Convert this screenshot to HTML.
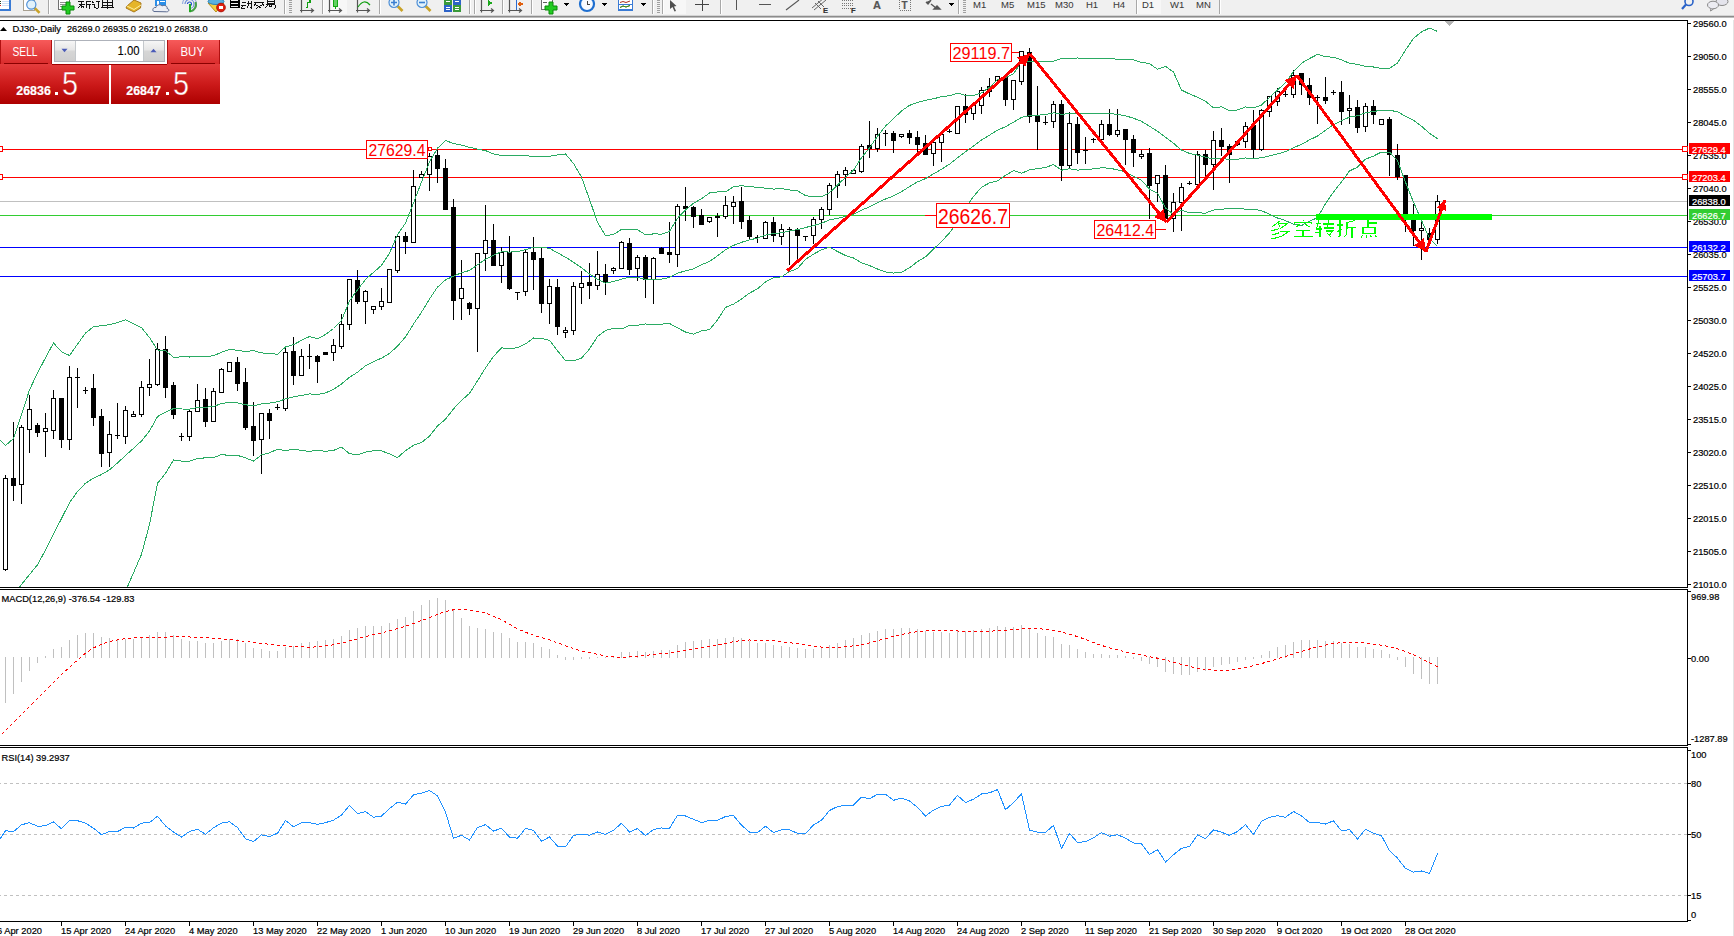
<!DOCTYPE html>
<html><head><meta charset="utf-8"><style>
html,body{margin:0;padding:0;width:1734px;height:936px;overflow:hidden;background:#fff;}
</style></head><body>
<svg width="1734" height="936" viewBox="0 0 1734 936" style="position:absolute;left:0;top:0" font-family='"Liberation Sans", sans-serif' shape-rendering="crispEdges"><rect x="0" y="20" width="1734" height="916" fill="#ffffff" /><rect x="1733" y="18" width="1" height="918" fill="#e4e4e4" /><rect x="0" y="20" width="1688" height="1" fill="#000" /><rect x="1687" y="20" width="1" height="568" fill="#000" /><rect x="0" y="587" width="1688" height="1" fill="#000" /><rect x="0" y="589" width="1688" height="1" fill="#000" /><rect x="1687" y="589" width="1" height="157" fill="#000" /><rect x="0" y="745" width="1688" height="1" fill="#000" /><rect x="0" y="747" width="1688" height="1" fill="#000" /><rect x="1687" y="747" width="1" height="175" fill="#000" /><rect x="0" y="921" width="1688" height="1" fill="#000" /><rect x="0" y="0" width="1734" height="15" fill="#f0f0f0" /><rect x="0" y="15" width="1734" height="1" fill="#d4d4d4" /><rect x="0" y="16" width="1734" height="1" fill="#8c8c8c" /><rect x="0" y="17" width="1734" height="1" fill="#bdbdbd" /><rect x="0" y="18" width="1734" height="2" fill="#ffffff" /><rect x="323" y="0" width="24" height="14" fill="#f7f7f7" /><rect x="664" y="0" width="22" height="14" fill="#f7f7f7" /><rect x="1137" y="0" width="24" height="14" fill="#f7f7f7" /><rect x="48" y="0" width="1" height="14" fill="#a8a8a8" /><rect x="49" y="0" width="1" height="14" fill="#ffffff" /><rect x="284" y="0" width="1" height="14" fill="#a8a8a8" /><rect x="285" y="0" width="1" height="14" fill="#ffffff" /><rect x="322" y="0" width="1" height="14" fill="#a8a8a8" /><rect x="323" y="0" width="1" height="14" fill="#ffffff" /><rect x="379" y="0" width="1" height="14" fill="#a8a8a8" /><rect x="380" y="0" width="1" height="14" fill="#ffffff" /><rect x="469" y="0" width="1" height="14" fill="#a8a8a8" /><rect x="470" y="0" width="1" height="14" fill="#ffffff" /><rect x="474" y="0" width="1" height="14" fill="#a8a8a8" /><rect x="475" y="0" width="1" height="14" fill="#ffffff" /><rect x="502" y="0" width="1" height="14" fill="#a8a8a8" /><rect x="503" y="0" width="1" height="14" fill="#ffffff" /><rect x="531" y="0" width="1" height="14" fill="#a8a8a8" /><rect x="532" y="0" width="1" height="14" fill="#ffffff" /><rect x="652" y="0" width="1" height="14" fill="#a8a8a8" /><rect x="653" y="0" width="1" height="14" fill="#ffffff" /><rect x="662" y="0" width="1" height="14" fill="#a8a8a8" /><rect x="663" y="0" width="1" height="14" fill="#ffffff" /><rect x="720" y="0" width="1" height="14" fill="#a8a8a8" /><rect x="721" y="0" width="1" height="14" fill="#ffffff" /><rect x="958" y="0" width="1" height="14" fill="#a8a8a8" /><rect x="959" y="0" width="1" height="14" fill="#ffffff" /><rect x="1136" y="0" width="1" height="14" fill="#a8a8a8" /><rect x="1137" y="0" width="1" height="14" fill="#ffffff" /><rect x="1219" y="0" width="1" height="14" fill="#a8a8a8" /><rect x="1220" y="0" width="1" height="14" fill="#ffffff" /><rect x="289" y="0" width="3" height="1" fill="#a0a0a0" /><rect x="289" y="2" width="3" height="1" fill="#a0a0a0" /><rect x="289" y="4" width="3" height="1" fill="#a0a0a0" /><rect x="289" y="6" width="3" height="1" fill="#a0a0a0" /><rect x="289" y="8" width="3" height="1" fill="#a0a0a0" /><rect x="289" y="10" width="3" height="1" fill="#a0a0a0" /><rect x="289" y="12" width="3" height="1" fill="#a0a0a0" /><rect x="657" y="0" width="3" height="1" fill="#a0a0a0" /><rect x="657" y="2" width="3" height="1" fill="#a0a0a0" /><rect x="657" y="4" width="3" height="1" fill="#a0a0a0" /><rect x="657" y="6" width="3" height="1" fill="#a0a0a0" /><rect x="657" y="8" width="3" height="1" fill="#a0a0a0" /><rect x="657" y="10" width="3" height="1" fill="#a0a0a0" /><rect x="657" y="12" width="3" height="1" fill="#a0a0a0" /><rect x="963" y="0" width="3" height="1" fill="#a0a0a0" /><rect x="963" y="2" width="3" height="1" fill="#a0a0a0" /><rect x="963" y="4" width="3" height="1" fill="#a0a0a0" /><rect x="963" y="6" width="3" height="1" fill="#a0a0a0" /><rect x="963" y="8" width="3" height="1" fill="#a0a0a0" /><rect x="963" y="10" width="3" height="1" fill="#a0a0a0" /><rect x="963" y="12" width="3" height="1" fill="#a0a0a0" /><rect x="0" y="0" width="11" height="11" fill="#3a7bd5" /><rect x="0" y="0" width="9" height="9" fill="#ffffff" /><rect x="2" y="1" width="7" height="1" fill="#cfe0f7" /><rect x="2" y="3" width="7" height="1" fill="#cfe0f7" /><rect x="2" y="5" width="7" height="1" fill="#cfe0f7" /><rect x="0" y="1" width="1" height="1" fill="#224422" /><rect x="0" y="3" width="1" height="1" fill="#224422" /><rect x="0" y="5" width="1" height="1" fill="#ee2222" /><rect x="23.5" y="-1" width="11" height="11" fill="#fff" stroke="#a8a090" stroke-width="1"/><line x1="34.52" y1="7.819999999999999" x2="39.52" y2="12.82" stroke="#c9a227" stroke-width="2.6" shape-rendering="auto"/><circle cx="31.3" cy="4.6" r="4.6" fill="#e2f2fb" stroke="#4f8fd6" stroke-width="1.2" shape-rendering="auto"/><rect x="58.5" y="-1" width="11" height="10.5" fill="#fff" stroke="#707070" stroke-width="1"/><rect x="60" y="2" width="6" height="1" fill="#909090" /><rect x="60" y="4" width="6" height="1" fill="#909090" /><rect x="60" y="6" width="4" height="1" fill="#909090" /><path d="M66 2 h4 v4 h4 v4 h-4 v4 h-4 v-4 h-4 v-4 h4 z" fill="#22cc22" stroke="#0a8a0a" stroke-width="1" shape-rendering="auto"/><path d="M78 1.5h6 M78.5 4.5h6 M81.5 1v7 M78 7.5l3-2 M84 7.5l-2.5-2 M85.5 1.5h5 M86 1v7 M86 4.5h4.5 M89 4.5v4" stroke="#111" stroke-width="1" fill="none"/><path d="M92 1.5l1.5 1.5 M92 4.5h2 v3.5 l1.5 -1 M95.5 1.5h4.5 M98 1.5v6.5 l-1.5 0.5" stroke="#111" stroke-width="1" fill="none"/><path d="M102.5 0v6.5 M112 0v6.5 M102.5 2.5h9.5 M102.5 5h9.5 M101 7.5h12.5 M107 0v9" stroke="#111" stroke-width="1" fill="none"/><path d="M127 6 L134 0 L141 3 L140.5 8 L134 12 L126 8 Z" fill="#e5b52a" stroke="#a9781a" stroke-width="1" shape-rendering="auto"/><path d="M127 6 L134 9.5 L141 5" stroke="#fff0a0" stroke-width="1" fill="none" shape-rendering="auto"/><rect x="155" y="0" width="11" height="6" fill="#2a8ee8" /><rect x="157" y="1" width="2" height="4" fill="#ffffff" /><rect x="160" y="1" width="5" height="1" fill="#ffffff" /><path d="M154 11.5 C152 11, 152.5 7, 156 7.5 C156.5 4.5, 160.5 4, 162 6 C164 4.5, 168 6, 167 8.5 C170 9, 169 12, 166.5 11.8 Z" fill="#eceff5" stroke="#5a6a90" stroke-width="1" shape-rendering="auto"/><path d="M187.5 4 A2 2 0 0 1 191.5 4 A2 2 0 0 1 189.5 6" fill="none" stroke="#2255cc" stroke-width="1.2" shape-rendering="auto"/><path d="M185.0 4 A4.5 4.5 0 0 1 194.0 4 A4.5 4.5 0 0 1 189.5 8.5" fill="none" stroke="#6a8ad8" stroke-width="1.2" shape-rendering="auto"/><path d="M182.5 4 A7 7 0 0 1 196.5 4 A7 7 0 0 1 189.5 11" fill="none" stroke="#9ab0e0" stroke-width="1.2" shape-rendering="auto"/><path d="M195.5 2 A7 7 0 0 1 189.5 11.5" fill="none" stroke="#4aa04a" stroke-width="2" shape-rendering="auto"/><rect x="189" y="4" width="2" height="8" fill="#22aa22" /><path d="M208 3 L216 12 L224 3 Z" fill="#f2d040" stroke="#b89020" stroke-width="1" shape-rendering="auto"/><ellipse cx="216" cy="1.5" rx="8" ry="3" fill="#58b0e0" stroke="#2a80b8" stroke-width="1" shape-rendering="auto"/><circle cx="221" cy="7.5" r="4.3" fill="#e02010" stroke="#b01008" stroke-width="1" shape-rendering="auto"/><rect x="219" y="6" width="4" height="3" fill="#ffffff" /><path d="M230.5 0v8 M239 0v8 M230.5 2h8.5 M230.5 5h8.5 M230.5 7.5h8.5" stroke="#000" stroke-width="1.2" fill="none"/><path d="M241.5 2.5h4 M241 5.5h5 M243 5.5l-1.5 2.5h3 M247 3h4 v4.5 l-1 0.5 M248.5 1v4 l-1.5 3 M251.5 1v7.5" stroke="#111" stroke-width="1" fill="none"/><path d="M254 2h10 M256 3.5l-2 2 M262 3.5l2 2 M256.5 5l5 3.5 M261.5 5l-5.5 3.5" stroke="#111" stroke-width="1" fill="none"/><path d="M267 0v3h7v-3 M267 1.5h7 M266 4.5h9 M268 4.5l-2.5 3.5 M270.5 4.5l-2 3 M272 4.5l-1.5 3 M275 4.5v3.5 l-1 0.5" stroke="#111" stroke-width="1" fill="none"/><path d="M301.5 0 V12.5 M300 10.5 H313 M311 8.5 L313.5 10.5 L311 12.5" stroke="#555" stroke-width="1.2" fill="none" shape-rendering="auto"/><path d="M305.5 7.5 h2 v-5 h2.5 v-3" stroke="#12a012" stroke-width="1.3" fill="none"/><path d="M329.5 0 V12.5 M328 10.5 H341 M339 8.5 L341.5 10.5 L339 12.5" stroke="#555" stroke-width="1.2" fill="none" shape-rendering="auto"/><rect x="333" y="0" width="5" height="7" fill="#12a812" /><rect x="334" y="0" width="3" height="6" fill="#60d060" /><rect x="335" y="7" width="1" height="2" fill="#12a812" /><path d="M357.5 0 V12.5 M356 10.5 H369 M367 8.5 L369.5 10.5 L367 12.5" stroke="#555" stroke-width="1.2" fill="none" shape-rendering="auto"/><path d="M358 7 Q364 -2 370 5" stroke="#12a012" stroke-width="1.2" fill="none" shape-rendering="auto"/><line x1="397.5" y1="6.0" x2="402.5" y2="11.0" stroke="#c9a227" stroke-width="2.6" shape-rendering="auto"/><circle cx="394" cy="2.5" r="5" fill="#e2f2fb" stroke="#4f8fd6" stroke-width="1.2" shape-rendering="auto"/><path d="M391 2.5 h6 M394 -0.5 v6" stroke="#3b7fd0" stroke-width="1.6" shape-rendering="auto"/><line x1="425.5" y1="6.0" x2="430.5" y2="11.0" stroke="#c9a227" stroke-width="2.6" shape-rendering="auto"/><circle cx="422" cy="2.5" r="5" fill="#e2f2fb" stroke="#4f8fd6" stroke-width="1.2" shape-rendering="auto"/><path d="M419 2.5 h6" stroke="#3b7fd0" stroke-width="1.6" shape-rendering="auto"/><rect x="444" y="0" width="8" height="5" fill="#3a9a3a" /><rect x="453" y="0" width="8" height="5" fill="#2d63c8" /><rect x="444" y="5" width="8" height="7" fill="#2d63c8" /><rect x="453" y="5" width="8" height="7" fill="#3a9a3a" /><rect x="446" y="7" width="4" height="1" fill="#fff" /><rect x="455" y="7" width="4" height="1" fill="#fff" /><rect x="446" y="9" width="4" height="1" fill="#fff" /><rect x="455" y="9" width="4" height="1" fill="#fff" /><rect x="446" y="1" width="4" height="1" fill="#fff" /><rect x="455" y="1" width="4" height="1" fill="#fff" /><path d="M481.5 0 V12.5 M480 10.5 H493 M491 8.5 L493.5 10.5 L491 12.5" stroke="#555" stroke-width="1.2" fill="none" shape-rendering="auto"/><polygon points="488,0 493,3 488,6" fill="#1aa81a"/><path d="M509.5 0 V12.5 M508 10.5 H521 M519 8.5 L521.5 10.5 L519 12.5" stroke="#555" stroke-width="1.2" fill="none" shape-rendering="auto"/><rect x="516" y="0" width="1" height="10" fill="#2a6ad0" /><polygon points="517,4 521,1.5 521,6.5" fill="#e06010"/><rect x="520" y="3" width="3" height="2" fill="#e06010" /><rect x="541.5" y="-1" width="11" height="10.5" fill="#fff" stroke="#707070" stroke-width="1"/><rect x="543" y="2" width="4" height="1" fill="#606060" /><path d="M549 2 h4 v4 h4 v4 h-4 v4 h-4 v-4 h-4 v-4 h4 z" fill="#22cc22" stroke="#0a8a0a" stroke-width="1" shape-rendering="auto"/><polygon points="563,3 569,3 566,6" fill="#000"/><circle cx="587" cy="4" r="7" fill="#f8fbff" stroke="#1f6fd0" stroke-width="2.2" shape-rendering="auto"/><path d="M587 0.5 v3.5 h2.5" stroke="#444" stroke-width="1" fill="none"/><polygon points="601,3 607,3 604,6" fill="#000"/><rect x="618.5" y="-1" width="14" height="11" fill="#fff" stroke="#3a7bd5" stroke-width="1.2"/><path d="M620 2.5 l3 -1 l3 1 l4 -1.5 M620 7.5 l3 -1.5 l3 1 l4 -1.5" stroke="#b03020" stroke-width="1" fill="none" shape-rendering="auto"/><path d="M620 7.5 l3 -1.5 l3 1 l4 -1.5" stroke="#20a020" stroke-width="1" fill="none" shape-rendering="auto"/><rect x="619" y="4" width="13" height="1" fill="#3a7bd5" /><polygon points="640,3 646,3 643,6" fill="#000"/><path d="M670 0 L676.5 6 L674 6.5 L676 11 L674.5 11.5 L672.5 7 L670 9 Z" fill="#505050" shape-rendering="auto"/><path d="M695 4.5 h14 M702.5 -1 v12" stroke="#444" stroke-width="1" fill="none"/><rect x="736" y="0" width="1" height="10" fill="#555" /><rect x="759" y="4" width="12" height="1" fill="#555" /><line x1="786" y1="10" x2="799" y2="0" stroke="#555" stroke-width="1.1" shape-rendering="auto"/><path d="M812 8 L824 -2 M814 10 L826 0 M815 3 L821 9 M818 1 L824 7" stroke="#666" stroke-width="1" fill="none" shape-rendering="auto"/><text x="823" y="12.5" font-size="7.5" fill="#333" text-anchor="start" font-weight="bold" stroke="#333" stroke-width="0.2" >E</text><line x1="842" y1="0.5" x2="854" y2="0.5" stroke="#777" stroke-width="1" stroke-dasharray="1 1"/><line x1="842" y1="3.0" x2="854" y2="3.0" stroke="#777" stroke-width="1" stroke-dasharray="1 1"/><line x1="842" y1="5.5" x2="854" y2="5.5" stroke="#777" stroke-width="1" stroke-dasharray="1 1"/><line x1="842" y1="8.0" x2="854" y2="8.0" stroke="#777" stroke-width="1" stroke-dasharray="1 1"/><text x="851" y="12.5" font-size="7.5" fill="#333" text-anchor="start" font-weight="bold" stroke="#333" stroke-width="0.2" >F</text><text x="873" y="9" font-size="11" fill="#555" text-anchor="start" font-weight="bold" stroke="#555" stroke-width="0.2" >A</text><rect x="899.5" y="-1" width="11" height="11" fill="none" stroke="#777" stroke-width="1" stroke-dasharray="1 1"/><text x="901.5" y="8.5" font-size="10" fill="#555" text-anchor="start" font-weight="bold" stroke="#555" stroke-width="0.2" >T</text><path d="M926 2 l2 2 l3 -4 M931 4 l5 4 M934 9 l3 -3 l3 3 z" stroke="#555" stroke-width="1.4" fill="#555" shape-rendering="auto"/><polygon points="948,3 954,3 951,6" fill="#000"/><text x="973" y="8" font-size="9.5" fill="#3a3a3a" text-anchor="start" font-weight="normal" stroke="#3a3a3a" stroke-width="0.05" >M1</text><text x="1001" y="8" font-size="9.5" fill="#3a3a3a" text-anchor="start" font-weight="normal" stroke="#3a3a3a" stroke-width="0.05" >M5</text><text x="1027" y="8" font-size="9.5" fill="#3a3a3a" text-anchor="start" font-weight="normal" stroke="#3a3a3a" stroke-width="0.05" >M15</text><text x="1055" y="8" font-size="9.5" fill="#3a3a3a" text-anchor="start" font-weight="normal" stroke="#3a3a3a" stroke-width="0.05" >M30</text><text x="1086" y="8" font-size="9.5" fill="#3a3a3a" text-anchor="start" font-weight="normal" stroke="#3a3a3a" stroke-width="0.05" >H1</text><text x="1113" y="8" font-size="9.5" fill="#3a3a3a" text-anchor="start" font-weight="normal" stroke="#3a3a3a" stroke-width="0.05" >H4</text><text x="1142" y="8" font-size="9.5" fill="#3a3a3a" text-anchor="start" font-weight="normal" stroke="#3a3a3a" stroke-width="0.05" >D1</text><text x="1170" y="8" font-size="9.5" fill="#3a3a3a" text-anchor="start" font-weight="normal" stroke="#3a3a3a" stroke-width="0.05" >W1</text><text x="1196" y="8" font-size="9.5" fill="#3a3a3a" text-anchor="start" font-weight="normal" stroke="#3a3a3a" stroke-width="0.05" >MN</text><circle cx="1689" cy="1.5" r="4" fill="none" stroke="#2a62c8" stroke-width="1.6" shape-rendering="auto"/><line x1="1686" y1="4.5" x2="1682" y2="9" stroke="#2a62c8" stroke-width="2.2" shape-rendering="auto"/><ellipse cx="1722" cy="1.5" rx="6" ry="4" fill="#e4e4ec" stroke="#888" stroke-width="1" shape-rendering="auto"/><ellipse cx="1713" cy="5" rx="5.5" ry="3.8" fill="#ececf2" stroke="#888" stroke-width="1" shape-rendering="auto"/><path d="M1711 8.5 l-0.5 2.5 l3 -2" stroke="#888" fill="#ececf2" stroke-width="1" shape-rendering="auto"/><svg width="1734" height="936" viewBox="0 0 1734 936" style="position:absolute;left:0;top:0" font-family='"Liberation Sans", sans-serif'><rect x="1688" y="23" width="3" height="1" fill="#000" /><text x="1693" y="26.5" font-size="9.3" fill="#000" text-anchor="start" font-weight="normal" stroke="#000" stroke-width="0.2" >29560.0</text><rect x="1688" y="56" width="3" height="1" fill="#000" /><text x="1693" y="59.5" font-size="9.3" fill="#000" text-anchor="start" font-weight="normal" stroke="#000" stroke-width="0.2" >29050.0</text><rect x="1688" y="89" width="3" height="1" fill="#000" /><text x="1693" y="92.5" font-size="9.3" fill="#000" text-anchor="start" font-weight="normal" stroke="#000" stroke-width="0.2" >28555.0</text><rect x="1688" y="122" width="3" height="1" fill="#000" /><text x="1693" y="125.5" font-size="9.3" fill="#000" text-anchor="start" font-weight="normal" stroke="#000" stroke-width="0.2" >28045.0</text><rect x="1688" y="155" width="3" height="1" fill="#000" /><text x="1693" y="158.5" font-size="9.3" fill="#000" text-anchor="start" font-weight="normal" stroke="#000" stroke-width="0.2" >27535.0</text><rect x="1688" y="188" width="3" height="1" fill="#000" /><text x="1693" y="191.5" font-size="9.3" fill="#000" text-anchor="start" font-weight="normal" stroke="#000" stroke-width="0.2" >27040.0</text><rect x="1688" y="221" width="3" height="1" fill="#000" /><text x="1693" y="224.5" font-size="9.3" fill="#000" text-anchor="start" font-weight="normal" stroke="#000" stroke-width="0.2" >26530.0</text><rect x="1688" y="254" width="3" height="1" fill="#000" /><text x="1693" y="257.5" font-size="9.3" fill="#000" text-anchor="start" font-weight="normal" stroke="#000" stroke-width="0.2" >26035.0</text><rect x="1688" y="287" width="3" height="1" fill="#000" /><text x="1693" y="290.5" font-size="9.3" fill="#000" text-anchor="start" font-weight="normal" stroke="#000" stroke-width="0.2" >25525.0</text><rect x="1688" y="320" width="3" height="1" fill="#000" /><text x="1693" y="323.5" font-size="9.3" fill="#000" text-anchor="start" font-weight="normal" stroke="#000" stroke-width="0.2" >25030.0</text><rect x="1688" y="353" width="3" height="1" fill="#000" /><text x="1693" y="356.5" font-size="9.3" fill="#000" text-anchor="start" font-weight="normal" stroke="#000" stroke-width="0.2" >24520.0</text><rect x="1688" y="386" width="3" height="1" fill="#000" /><text x="1693" y="389.5" font-size="9.3" fill="#000" text-anchor="start" font-weight="normal" stroke="#000" stroke-width="0.2" >24025.0</text><rect x="1688" y="419" width="3" height="1" fill="#000" /><text x="1693" y="422.5" font-size="9.3" fill="#000" text-anchor="start" font-weight="normal" stroke="#000" stroke-width="0.2" >23515.0</text><rect x="1688" y="452" width="3" height="1" fill="#000" /><text x="1693" y="455.5" font-size="9.3" fill="#000" text-anchor="start" font-weight="normal" stroke="#000" stroke-width="0.2" >23020.0</text><rect x="1688" y="485" width="3" height="1" fill="#000" /><text x="1693" y="488.5" font-size="9.3" fill="#000" text-anchor="start" font-weight="normal" stroke="#000" stroke-width="0.2" >22510.0</text><rect x="1688" y="518" width="3" height="1" fill="#000" /><text x="1693" y="521.5" font-size="9.3" fill="#000" text-anchor="start" font-weight="normal" stroke="#000" stroke-width="0.2" >22015.0</text><rect x="1688" y="551" width="3" height="1" fill="#000" /><text x="1693" y="554.5" font-size="9.3" fill="#000" text-anchor="start" font-weight="normal" stroke="#000" stroke-width="0.2" >21505.0</text><rect x="1688" y="584" width="3" height="1" fill="#000" /><text x="1693" y="587.5" font-size="9.3" fill="#000" text-anchor="start" font-weight="normal" stroke="#000" stroke-width="0.2" >21010.0</text><rect x="-3" y="922" width="1" height="4" fill="#000" /><text x="-3" y="933.5" font-size="9.3" fill="#000" text-anchor="start" font-weight="normal" stroke="#000" stroke-width="0.2" >6 Apr 2020</text><rect x="61" y="922" width="1" height="4" fill="#000" /><text x="61" y="933.5" font-size="9.3" fill="#000" text-anchor="start" font-weight="normal" stroke="#000" stroke-width="0.2" >15 Apr 2020</text><rect x="125" y="922" width="1" height="4" fill="#000" /><text x="125" y="933.5" font-size="9.3" fill="#000" text-anchor="start" font-weight="normal" stroke="#000" stroke-width="0.2" >24 Apr 2020</text><rect x="189" y="922" width="1" height="4" fill="#000" /><text x="189" y="933.5" font-size="9.3" fill="#000" text-anchor="start" font-weight="normal" stroke="#000" stroke-width="0.2" >4 May 2020</text><rect x="253" y="922" width="1" height="4" fill="#000" /><text x="253" y="933.5" font-size="9.3" fill="#000" text-anchor="start" font-weight="normal" stroke="#000" stroke-width="0.2" >13 May 2020</text><rect x="317" y="922" width="1" height="4" fill="#000" /><text x="317" y="933.5" font-size="9.3" fill="#000" text-anchor="start" font-weight="normal" stroke="#000" stroke-width="0.2" >22 May 2020</text><rect x="381" y="922" width="1" height="4" fill="#000" /><text x="381" y="933.5" font-size="9.3" fill="#000" text-anchor="start" font-weight="normal" stroke="#000" stroke-width="0.2" >1 Jun 2020</text><rect x="445" y="922" width="1" height="4" fill="#000" /><text x="445" y="933.5" font-size="9.3" fill="#000" text-anchor="start" font-weight="normal" stroke="#000" stroke-width="0.2" >10 Jun 2020</text><rect x="509" y="922" width="1" height="4" fill="#000" /><text x="509" y="933.5" font-size="9.3" fill="#000" text-anchor="start" font-weight="normal" stroke="#000" stroke-width="0.2" >19 Jun 2020</text><rect x="573" y="922" width="1" height="4" fill="#000" /><text x="573" y="933.5" font-size="9.3" fill="#000" text-anchor="start" font-weight="normal" stroke="#000" stroke-width="0.2" >29 Jun 2020</text><rect x="637" y="922" width="1" height="4" fill="#000" /><text x="637" y="933.5" font-size="9.3" fill="#000" text-anchor="start" font-weight="normal" stroke="#000" stroke-width="0.2" >8 Jul 2020</text><rect x="701" y="922" width="1" height="4" fill="#000" /><text x="701" y="933.5" font-size="9.3" fill="#000" text-anchor="start" font-weight="normal" stroke="#000" stroke-width="0.2" >17 Jul 2020</text><rect x="765" y="922" width="1" height="4" fill="#000" /><text x="765" y="933.5" font-size="9.3" fill="#000" text-anchor="start" font-weight="normal" stroke="#000" stroke-width="0.2" >27 Jul 2020</text><rect x="829" y="922" width="1" height="4" fill="#000" /><text x="829" y="933.5" font-size="9.3" fill="#000" text-anchor="start" font-weight="normal" stroke="#000" stroke-width="0.2" >5 Aug 2020</text><rect x="893" y="922" width="1" height="4" fill="#000" /><text x="893" y="933.5" font-size="9.3" fill="#000" text-anchor="start" font-weight="normal" stroke="#000" stroke-width="0.2" >14 Aug 2020</text><rect x="957" y="922" width="1" height="4" fill="#000" /><text x="957" y="933.5" font-size="9.3" fill="#000" text-anchor="start" font-weight="normal" stroke="#000" stroke-width="0.2" >24 Aug 2020</text><rect x="1021" y="922" width="1" height="4" fill="#000" /><text x="1021" y="933.5" font-size="9.3" fill="#000" text-anchor="start" font-weight="normal" stroke="#000" stroke-width="0.2" >2 Sep 2020</text><rect x="1085" y="922" width="1" height="4" fill="#000" /><text x="1085" y="933.5" font-size="9.3" fill="#000" text-anchor="start" font-weight="normal" stroke="#000" stroke-width="0.2" >11 Sep 2020</text><rect x="1149" y="922" width="1" height="4" fill="#000" /><text x="1149" y="933.5" font-size="9.3" fill="#000" text-anchor="start" font-weight="normal" stroke="#000" stroke-width="0.2" >21 Sep 2020</text><rect x="1213" y="922" width="1" height="4" fill="#000" /><text x="1213" y="933.5" font-size="9.3" fill="#000" text-anchor="start" font-weight="normal" stroke="#000" stroke-width="0.2" >30 Sep 2020</text><rect x="1277" y="922" width="1" height="4" fill="#000" /><text x="1277" y="933.5" font-size="9.3" fill="#000" text-anchor="start" font-weight="normal" stroke="#000" stroke-width="0.2" >9 Oct 2020</text><rect x="1341" y="922" width="1" height="4" fill="#000" /><text x="1341" y="933.5" font-size="9.3" fill="#000" text-anchor="start" font-weight="normal" stroke="#000" stroke-width="0.2" >19 Oct 2020</text><rect x="1405" y="922" width="1" height="4" fill="#000" /><text x="1405" y="933.5" font-size="9.3" fill="#000" text-anchor="start" font-weight="normal" stroke="#000" stroke-width="0.2" >28 Oct 2020</text><rect x="0" y="149" width="1687" height="1" fill="#ff0000" /><rect x="1689" y="143" width="41" height="11" fill="#ff0000" /><text x="1692" y="152.5" font-size="9.3" fill="#fff" text-anchor="start" font-weight="normal" stroke="#fff" stroke-width="0.2" >27629.4</text><rect x="1682.5" y="146.5" width="5" height="5" fill="#fff" stroke="#ff0000" stroke-width="1"/><rect x="-2.5" y="146.5" width="5" height="5" fill="#fff" stroke="#ff0000" stroke-width="1"/><rect x="0" y="177" width="1687" height="1" fill="#ff0000" /><rect x="1689" y="171" width="41" height="11" fill="#ff0000" /><text x="1692" y="180.5" font-size="9.3" fill="#fff" text-anchor="start" font-weight="normal" stroke="#fff" stroke-width="0.2" >27203.4</text><rect x="1682.5" y="174.5" width="5" height="5" fill="#fff" stroke="#ff0000" stroke-width="1"/><rect x="-2.5" y="174.5" width="5" height="5" fill="#fff" stroke="#ff0000" stroke-width="1"/><rect x="0" y="201" width="1687" height="1" fill="#c0c0c0" /><rect x="1689" y="195" width="41" height="11" fill="#000000" /><text x="1692" y="204.5" font-size="9.3" fill="#fff" text-anchor="start" font-weight="normal" stroke="#fff" stroke-width="0.2" >26838.0</text><rect x="0" y="215" width="1687" height="1" fill="#32cd32" /><rect x="1689" y="209" width="41" height="11" fill="#32cd32" /><text x="1692" y="218.5" font-size="9.3" fill="#fff" text-anchor="start" font-weight="normal" stroke="#fff" stroke-width="0.2" >26626.7</text><rect x="0" y="247" width="1687" height="1" fill="#0000ff" /><rect x="1689" y="241" width="41" height="11" fill="#0000ff" /><text x="1692" y="250.5" font-size="9.3" fill="#fff" text-anchor="start" font-weight="normal" stroke="#fff" stroke-width="0.2" >26132.2</text><rect x="0" y="276" width="1687" height="1" fill="#0000ff" /><rect x="1689" y="270" width="41" height="11" fill="#0000ff" /><text x="1692" y="279.5" font-size="9.3" fill="#fff" text-anchor="start" font-weight="normal" stroke="#fff" stroke-width="0.2" >25703.7</text><rect x="5" y="475" width="1" height="96" fill="#000" /><rect x="3" y="478" width="5" height="92" fill="#000" /><rect x="4" y="479" width="3" height="90" fill="#fff" /><rect x="13" y="422" width="1" height="79" fill="#000" /><rect x="11" y="478" width="5" height="8" fill="#000" /><rect x="21" y="425" width="1" height="79" fill="#000" /><rect x="19" y="427" width="5" height="58" fill="#000" /><rect x="20" y="428" width="3" height="56" fill="#fff" /><rect x="29" y="395" width="1" height="58" fill="#000" /><rect x="27" y="409" width="5" height="21" fill="#000" /><rect x="28" y="410" width="3" height="19" fill="#fff" /><rect x="37" y="423" width="1" height="14" fill="#000" /><rect x="35" y="425" width="5" height="8" fill="#000" /><rect x="45" y="413" width="1" height="44" fill="#000" /><rect x="43" y="428" width="5" height="4" fill="#000" /><rect x="44" y="429" width="3" height="2" fill="#fff" /><rect x="53" y="390" width="1" height="49" fill="#000" /><rect x="51" y="398" width="5" height="33" fill="#000" /><rect x="52" y="399" width="3" height="31" fill="#fff" /><rect x="61" y="398" width="1" height="50" fill="#000" /><rect x="59" y="398" width="5" height="42" fill="#000" /><rect x="69" y="366" width="1" height="84" fill="#000" /><rect x="67" y="377" width="5" height="63" fill="#000" /><rect x="68" y="378" width="3" height="61" fill="#fff" /><rect x="77" y="368" width="1" height="40" fill="#000" /><rect x="75" y="377" width="5" height="1" fill="#000" /><rect x="85" y="387" width="1" height="7" fill="#000" /><rect x="83" y="390" width="5" height="1" fill="#000" /><rect x="93" y="374" width="1" height="52" fill="#000" /><rect x="91" y="388" width="5" height="30" fill="#000" /><rect x="101" y="409" width="1" height="58" fill="#000" /><rect x="99" y="416" width="5" height="38" fill="#000" /><rect x="109" y="421" width="1" height="46" fill="#000" /><rect x="107" y="434" width="5" height="19" fill="#000" /><rect x="108" y="435" width="3" height="17" fill="#fff" /><rect x="117" y="403" width="1" height="36" fill="#000" /><rect x="115" y="435" width="5" height="1" fill="#000" /><rect x="125" y="406" width="1" height="38" fill="#000" /><rect x="123" y="410" width="5" height="27" fill="#000" /><rect x="124" y="411" width="3" height="25" fill="#fff" /><rect x="133" y="411" width="1" height="6" fill="#000" /><rect x="131" y="414" width="5" height="3" fill="#000" /><rect x="132" y="415" width="3" height="1" fill="#fff" /><rect x="141" y="381" width="1" height="36" fill="#000" /><rect x="139" y="387" width="5" height="28" fill="#000" /><rect x="140" y="388" width="3" height="26" fill="#fff" /><rect x="149" y="359" width="1" height="37" fill="#000" /><rect x="147" y="384" width="5" height="4" fill="#000" /><rect x="148" y="385" width="3" height="2" fill="#fff" /><rect x="157" y="343" width="1" height="43" fill="#000" /><rect x="155" y="349" width="5" height="36" fill="#000" /><rect x="156" y="350" width="3" height="34" fill="#fff" /><rect x="165" y="336" width="1" height="62" fill="#000" /><rect x="163" y="349" width="5" height="39" fill="#000" /><rect x="173" y="382" width="1" height="37" fill="#000" /><rect x="171" y="385" width="5" height="30" fill="#000" /><rect x="181" y="433" width="1" height="8" fill="#000" /><rect x="179" y="436" width="5" height="1" fill="#000" /><rect x="189" y="409" width="1" height="32" fill="#000" /><rect x="187" y="411" width="5" height="26" fill="#000" /><rect x="188" y="412" width="3" height="24" fill="#fff" /><rect x="197" y="384" width="1" height="28" fill="#000" /><rect x="195" y="400" width="5" height="12" fill="#000" /><rect x="196" y="401" width="3" height="10" fill="#fff" /><rect x="205" y="388" width="1" height="39" fill="#000" /><rect x="203" y="399" width="5" height="23" fill="#000" /><rect x="213" y="388" width="1" height="34" fill="#000" /><rect x="211" y="391" width="5" height="31" fill="#000" /><rect x="212" y="392" width="3" height="29" fill="#fff" /><rect x="221" y="368" width="1" height="25" fill="#000" /><rect x="219" y="369" width="5" height="24" fill="#000" /><rect x="220" y="370" width="3" height="22" fill="#fff" /><rect x="229" y="362" width="1" height="10" fill="#000" /><rect x="227" y="362" width="5" height="10" fill="#000" /><rect x="228" y="363" width="3" height="8" fill="#fff" /><rect x="237" y="357" width="1" height="34" fill="#000" /><rect x="235" y="362" width="5" height="22" fill="#000" /><rect x="245" y="368" width="1" height="62" fill="#000" /><rect x="243" y="382" width="5" height="46" fill="#000" /><rect x="253" y="402" width="1" height="54" fill="#000" /><rect x="251" y="426" width="5" height="15" fill="#000" /><rect x="261" y="413" width="1" height="61" fill="#000" /><rect x="259" y="413" width="5" height="27" fill="#000" /><rect x="260" y="414" width="3" height="25" fill="#fff" /><rect x="269" y="409" width="1" height="30" fill="#000" /><rect x="267" y="413" width="5" height="8" fill="#000" /><rect x="277" y="404" width="1" height="6" fill="#000" /><rect x="275" y="407" width="5" height="1" fill="#000" /><rect x="285" y="346" width="1" height="65" fill="#000" /><rect x="283" y="352" width="5" height="57" fill="#000" /><rect x="284" y="353" width="3" height="55" fill="#fff" /><rect x="293" y="337" width="1" height="48" fill="#000" /><rect x="291" y="351" width="5" height="25" fill="#000" /><rect x="301" y="349" width="1" height="27" fill="#000" /><rect x="299" y="356" width="5" height="20" fill="#000" /><rect x="300" y="357" width="3" height="18" fill="#fff" /><rect x="309" y="344" width="1" height="25" fill="#000" /><rect x="307" y="356" width="5" height="1" fill="#000" /><rect x="317" y="355" width="1" height="28" fill="#000" /><rect x="315" y="356" width="5" height="6" fill="#000" /><rect x="325" y="352" width="1" height="3" fill="#000" /><rect x="323" y="352" width="5" height="3" fill="#000" /><rect x="333" y="339" width="1" height="22" fill="#000" /><rect x="331" y="345" width="5" height="8" fill="#000" /><rect x="332" y="346" width="3" height="6" fill="#fff" /><rect x="341" y="314" width="1" height="35" fill="#000" /><rect x="339" y="324" width="5" height="23" fill="#000" /><rect x="340" y="325" width="3" height="21" fill="#fff" /><rect x="349" y="279" width="1" height="51" fill="#000" /><rect x="347" y="279" width="5" height="46" fill="#000" /><rect x="348" y="280" width="3" height="44" fill="#fff" /><rect x="357" y="270" width="1" height="34" fill="#000" /><rect x="355" y="280" width="5" height="22" fill="#000" /><rect x="365" y="290" width="1" height="34" fill="#000" /><rect x="363" y="291" width="5" height="11" fill="#000" /><rect x="364" y="292" width="3" height="9" fill="#fff" /><rect x="373" y="306" width="1" height="8" fill="#000" /><rect x="371" y="306" width="5" height="4" fill="#000" /><rect x="372" y="307" width="3" height="2" fill="#fff" /><rect x="381" y="288" width="1" height="22" fill="#000" /><rect x="379" y="301" width="5" height="6" fill="#000" /><rect x="380" y="302" width="3" height="4" fill="#fff" /><rect x="389" y="269" width="1" height="34" fill="#000" /><rect x="387" y="269" width="5" height="34" fill="#000" /><rect x="388" y="270" width="3" height="32" fill="#fff" /><rect x="397" y="235" width="1" height="38" fill="#000" /><rect x="395" y="236" width="5" height="35" fill="#000" /><rect x="396" y="237" width="3" height="33" fill="#fff" /><rect x="405" y="232" width="1" height="22" fill="#000" /><rect x="403" y="236" width="5" height="6" fill="#000" /><rect x="413" y="170" width="1" height="73" fill="#000" /><rect x="411" y="186" width="5" height="57" fill="#000" /><rect x="412" y="187" width="3" height="55" fill="#fff" /><rect x="421" y="171" width="1" height="7" fill="#000" /><rect x="419" y="174" width="5" height="4" fill="#000" /><rect x="420" y="175" width="3" height="2" fill="#fff" /><rect x="429" y="153" width="1" height="38" fill="#000" /><rect x="427" y="156" width="5" height="19" fill="#000" /><rect x="428" y="157" width="3" height="17" fill="#fff" /><rect x="437" y="150" width="1" height="33" fill="#000" /><rect x="435" y="155" width="5" height="14" fill="#000" /><rect x="445" y="159" width="1" height="51" fill="#000" /><rect x="443" y="168" width="5" height="42" fill="#000" /><rect x="453" y="199" width="1" height="121" fill="#000" /><rect x="451" y="207" width="5" height="94" fill="#000" /><rect x="461" y="260" width="1" height="60" fill="#000" /><rect x="459" y="288" width="5" height="11" fill="#000" /><rect x="460" y="289" width="3" height="9" fill="#fff" /><rect x="469" y="302" width="1" height="13" fill="#000" /><rect x="467" y="303" width="5" height="6" fill="#000" /><rect x="477" y="253" width="1" height="99" fill="#000" /><rect x="475" y="253" width="5" height="56" fill="#000" /><rect x="476" y="254" width="3" height="54" fill="#fff" /><rect x="485" y="205" width="1" height="66" fill="#000" /><rect x="483" y="240" width="5" height="14" fill="#000" /><rect x="484" y="241" width="3" height="12" fill="#fff" /><rect x="493" y="224" width="1" height="42" fill="#000" /><rect x="491" y="240" width="5" height="26" fill="#000" /><rect x="501" y="247" width="1" height="36" fill="#000" /><rect x="499" y="252" width="5" height="14" fill="#000" /><rect x="500" y="253" width="3" height="12" fill="#fff" /><rect x="509" y="236" width="1" height="54" fill="#000" /><rect x="507" y="252" width="5" height="37" fill="#000" /><rect x="517" y="292" width="1" height="8" fill="#000" /><rect x="515" y="292" width="5" height="1" fill="#000" /><rect x="525" y="250" width="1" height="46" fill="#000" /><rect x="523" y="252" width="5" height="40" fill="#000" /><rect x="524" y="253" width="3" height="38" fill="#fff" /><rect x="533" y="237" width="1" height="53" fill="#000" /><rect x="531" y="252" width="5" height="8" fill="#000" /><rect x="541" y="248" width="1" height="65" fill="#000" /><rect x="539" y="258" width="5" height="46" fill="#000" /><rect x="549" y="279" width="1" height="45" fill="#000" /><rect x="547" y="286" width="5" height="18" fill="#000" /><rect x="548" y="287" width="3" height="16" fill="#fff" /><rect x="557" y="279" width="1" height="56" fill="#000" /><rect x="555" y="287" width="5" height="40" fill="#000" /><rect x="565" y="327" width="1" height="11" fill="#000" /><rect x="563" y="330" width="5" height="3" fill="#000" /><rect x="564" y="331" width="3" height="1" fill="#fff" /><rect x="573" y="282" width="1" height="53" fill="#000" /><rect x="571" y="286" width="5" height="45" fill="#000" /><rect x="572" y="287" width="3" height="43" fill="#fff" /><rect x="581" y="271" width="1" height="33" fill="#000" /><rect x="579" y="283" width="5" height="5" fill="#000" /><rect x="580" y="284" width="3" height="3" fill="#fff" /><rect x="589" y="263" width="1" height="36" fill="#000" /><rect x="587" y="282" width="5" height="4" fill="#000" /><rect x="597" y="251" width="1" height="39" fill="#000" /><rect x="595" y="274" width="5" height="12" fill="#000" /><rect x="596" y="275" width="3" height="10" fill="#fff" /><rect x="605" y="264" width="1" height="31" fill="#000" /><rect x="603" y="274" width="5" height="9" fill="#000" /><rect x="613" y="267" width="1" height="7" fill="#000" /><rect x="611" y="268" width="5" height="3" fill="#000" /><rect x="612" y="269" width="3" height="1" fill="#fff" /><rect x="621" y="241" width="1" height="28" fill="#000" /><rect x="619" y="242" width="5" height="27" fill="#000" /><rect x="620" y="243" width="3" height="25" fill="#fff" /><rect x="629" y="238" width="1" height="37" fill="#000" /><rect x="627" y="243" width="5" height="27" fill="#000" /><rect x="637" y="255" width="1" height="26" fill="#000" /><rect x="635" y="257" width="5" height="12" fill="#000" /><rect x="636" y="258" width="3" height="10" fill="#fff" /><rect x="645" y="255" width="1" height="43" fill="#000" /><rect x="643" y="257" width="5" height="23" fill="#000" /><rect x="653" y="257" width="1" height="47" fill="#000" /><rect x="651" y="258" width="5" height="22" fill="#000" /><rect x="652" y="259" width="3" height="20" fill="#fff" /><rect x="661" y="247" width="1" height="7" fill="#000" /><rect x="659" y="248" width="5" height="6" fill="#000" /><rect x="669" y="222" width="1" height="41" fill="#000" /><rect x="667" y="252" width="5" height="3" fill="#000" /><rect x="677" y="204" width="1" height="63" fill="#000" /><rect x="675" y="206" width="5" height="49" fill="#000" /><rect x="676" y="207" width="3" height="47" fill="#fff" /><rect x="685" y="187" width="1" height="34" fill="#000" /><rect x="683" y="206" width="5" height="3" fill="#000" /><rect x="693" y="206" width="1" height="22" fill="#000" /><rect x="691" y="207" width="5" height="10" fill="#000" /><rect x="701" y="209" width="1" height="16" fill="#000" /><rect x="699" y="215" width="5" height="10" fill="#000" /><rect x="709" y="217" width="1" height="6" fill="#000" /><rect x="707" y="217" width="5" height="5" fill="#000" /><rect x="708" y="218" width="3" height="3" fill="#fff" /><rect x="717" y="213" width="1" height="24" fill="#000" /><rect x="715" y="216" width="5" height="2" fill="#000" /><rect x="725" y="196" width="1" height="23" fill="#000" /><rect x="723" y="205" width="5" height="12" fill="#000" /><rect x="724" y="206" width="3" height="10" fill="#fff" /><rect x="733" y="196" width="1" height="28" fill="#000" /><rect x="731" y="202" width="5" height="5" fill="#000" /><rect x="732" y="203" width="3" height="3" fill="#fff" /><rect x="741" y="187" width="1" height="42" fill="#000" /><rect x="739" y="201" width="5" height="21" fill="#000" /><rect x="749" y="216" width="1" height="23" fill="#000" /><rect x="747" y="220" width="5" height="17" fill="#000" /><rect x="757" y="235" width="1" height="8" fill="#000" /><rect x="755" y="237" width="5" height="1" fill="#000" /><rect x="765" y="221" width="1" height="18" fill="#000" /><rect x="763" y="222" width="5" height="17" fill="#000" /><rect x="764" y="223" width="3" height="15" fill="#fff" /><rect x="773" y="217" width="1" height="25" fill="#000" /><rect x="771" y="222" width="5" height="14" fill="#000" /><rect x="781" y="224" width="1" height="21" fill="#000" /><rect x="779" y="229" width="5" height="8" fill="#000" /><rect x="780" y="230" width="3" height="6" fill="#fff" /><rect x="789" y="227" width="1" height="38" fill="#000" /><rect x="787" y="229" width="5" height="1" fill="#000" /><rect x="797" y="228" width="1" height="33" fill="#000" /><rect x="795" y="230" width="5" height="6" fill="#000" /><rect x="805" y="236" width="1" height="5" fill="#000" /><rect x="803" y="236" width="5" height="1" fill="#000" /><rect x="813" y="217" width="1" height="27" fill="#000" /><rect x="811" y="219" width="5" height="17" fill="#000" /><rect x="812" y="220" width="3" height="15" fill="#fff" /><rect x="821" y="207" width="1" height="22" fill="#000" /><rect x="819" y="209" width="5" height="11" fill="#000" /><rect x="820" y="210" width="3" height="9" fill="#fff" /><rect x="829" y="183" width="1" height="32" fill="#000" /><rect x="827" y="185" width="5" height="25" fill="#000" /><rect x="828" y="186" width="3" height="23" fill="#fff" /><rect x="837" y="171" width="1" height="27" fill="#000" /><rect x="835" y="174" width="5" height="12" fill="#000" /><rect x="836" y="175" width="3" height="10" fill="#fff" /><rect x="845" y="167" width="1" height="19" fill="#000" /><rect x="843" y="170" width="5" height="5" fill="#000" /><rect x="844" y="171" width="3" height="3" fill="#fff" /><rect x="853" y="170" width="1" height="4" fill="#000" /><rect x="851" y="170" width="5" height="4" fill="#000" /><rect x="852" y="171" width="3" height="2" fill="#fff" /><rect x="861" y="144" width="1" height="29" fill="#000" /><rect x="859" y="146" width="5" height="26" fill="#000" /><rect x="860" y="147" width="3" height="24" fill="#fff" /><rect x="869" y="121" width="1" height="37" fill="#000" /><rect x="867" y="145" width="5" height="4" fill="#000" /><rect x="877" y="128" width="1" height="24" fill="#000" /><rect x="875" y="134" width="5" height="15" fill="#000" /><rect x="876" y="135" width="3" height="13" fill="#fff" /><rect x="885" y="130" width="1" height="16" fill="#000" /><rect x="883" y="133" width="5" height="1" fill="#000" /><rect x="893" y="131" width="1" height="22" fill="#000" /><rect x="891" y="133" width="5" height="8" fill="#000" /><rect x="901" y="134" width="1" height="4" fill="#000" /><rect x="899" y="134" width="5" height="3" fill="#000" /><rect x="900" y="135" width="3" height="1" fill="#fff" /><rect x="909" y="130" width="1" height="14" fill="#000" /><rect x="907" y="133" width="5" height="5" fill="#000" /><rect x="917" y="131" width="1" height="22" fill="#000" /><rect x="915" y="137" width="5" height="8" fill="#000" /><rect x="925" y="135" width="1" height="20" fill="#000" /><rect x="923" y="143" width="5" height="12" fill="#000" /><rect x="933" y="142" width="1" height="24" fill="#000" /><rect x="931" y="142" width="5" height="12" fill="#000" /><rect x="932" y="143" width="3" height="10" fill="#fff" /><rect x="941" y="134" width="1" height="28" fill="#000" /><rect x="939" y="134" width="5" height="9" fill="#000" /><rect x="940" y="135" width="3" height="7" fill="#fff" /><rect x="949" y="129" width="1" height="4" fill="#000" /><rect x="947" y="131" width="5" height="1" fill="#000" /><rect x="957" y="106" width="1" height="28" fill="#000" /><rect x="955" y="106" width="5" height="28" fill="#000" /><rect x="956" y="107" width="3" height="26" fill="#fff" /><rect x="965" y="94" width="1" height="29" fill="#000" /><rect x="963" y="106" width="5" height="9" fill="#000" /><rect x="973" y="105" width="1" height="15" fill="#000" /><rect x="971" y="105" width="5" height="9" fill="#000" /><rect x="972" y="106" width="3" height="7" fill="#fff" /><rect x="981" y="87" width="1" height="27" fill="#000" /><rect x="979" y="90" width="5" height="16" fill="#000" /><rect x="980" y="91" width="3" height="14" fill="#fff" /><rect x="989" y="78" width="1" height="19" fill="#000" /><rect x="987" y="86" width="5" height="6" fill="#000" /><rect x="988" y="87" width="3" height="4" fill="#fff" /><rect x="997" y="76" width="1" height="5" fill="#000" /><rect x="995" y="76" width="5" height="5" fill="#000" /><rect x="996" y="77" width="3" height="3" fill="#fff" /><rect x="1005" y="74" width="1" height="32" fill="#000" /><rect x="1003" y="77" width="5" height="23" fill="#000" /><rect x="1013" y="80" width="1" height="30" fill="#000" /><rect x="1011" y="80" width="5" height="20" fill="#000" /><rect x="1012" y="81" width="3" height="18" fill="#fff" /><rect x="1021" y="51" width="1" height="34" fill="#000" /><rect x="1019" y="51" width="5" height="31" fill="#000" /><rect x="1020" y="52" width="3" height="29" fill="#fff" /><rect x="1029" y="48" width="1" height="75" fill="#000" /><rect x="1027" y="52" width="5" height="65" fill="#000" /><rect x="1037" y="86" width="1" height="64" fill="#000" /><rect x="1035" y="115" width="5" height="7" fill="#000" /><rect x="1045" y="116" width="1" height="9" fill="#000" /><rect x="1043" y="122" width="5" height="1" fill="#000" /><rect x="1053" y="101" width="1" height="27" fill="#000" /><rect x="1051" y="104" width="5" height="18" fill="#000" /><rect x="1052" y="105" width="3" height="16" fill="#fff" /><rect x="1061" y="100" width="1" height="81" fill="#000" /><rect x="1059" y="104" width="5" height="62" fill="#000" /><rect x="1069" y="112" width="1" height="56" fill="#000" /><rect x="1067" y="123" width="5" height="43" fill="#000" /><rect x="1068" y="124" width="3" height="41" fill="#fff" /><rect x="1077" y="117" width="1" height="47" fill="#000" /><rect x="1075" y="124" width="5" height="29" fill="#000" /><rect x="1085" y="137" width="1" height="27" fill="#000" /><rect x="1083" y="150" width="5" height="1" fill="#000" /><rect x="1093" y="138" width="1" height="5" fill="#000" /><rect x="1091" y="139" width="5" height="1" fill="#000" /><rect x="1101" y="120" width="1" height="22" fill="#000" /><rect x="1099" y="124" width="5" height="16" fill="#000" /><rect x="1100" y="125" width="3" height="14" fill="#fff" /><rect x="1109" y="109" width="1" height="27" fill="#000" /><rect x="1107" y="124" width="5" height="11" fill="#000" /><rect x="1117" y="109" width="1" height="28" fill="#000" /><rect x="1115" y="130" width="5" height="5" fill="#000" /><rect x="1116" y="131" width="3" height="3" fill="#fff" /><rect x="1125" y="129" width="1" height="36" fill="#000" /><rect x="1123" y="129" width="5" height="11" fill="#000" /><rect x="1133" y="135" width="1" height="32" fill="#000" /><rect x="1131" y="139" width="5" height="14" fill="#000" /><rect x="1141" y="150" width="1" height="9" fill="#000" /><rect x="1139" y="154" width="5" height="3" fill="#000" /><rect x="1140" y="155" width="3" height="1" fill="#fff" /><rect x="1149" y="148" width="1" height="71" fill="#000" /><rect x="1147" y="153" width="5" height="33" fill="#000" /><rect x="1157" y="175" width="1" height="27" fill="#000" /><rect x="1155" y="175" width="5" height="9" fill="#000" /><rect x="1156" y="176" width="3" height="7" fill="#fff" /><rect x="1165" y="165" width="1" height="56" fill="#000" /><rect x="1163" y="175" width="5" height="44" fill="#000" /><rect x="1173" y="193" width="1" height="39" fill="#000" /><rect x="1171" y="202" width="5" height="17" fill="#000" /><rect x="1172" y="203" width="3" height="15" fill="#fff" /><rect x="1181" y="183" width="1" height="48" fill="#000" /><rect x="1179" y="187" width="5" height="16" fill="#000" /><rect x="1180" y="188" width="3" height="14" fill="#fff" /><rect x="1189" y="181" width="1" height="4" fill="#000" /><rect x="1187" y="183" width="5" height="1" fill="#000" /><rect x="1197" y="151" width="1" height="35" fill="#000" /><rect x="1195" y="154" width="5" height="31" fill="#000" /><rect x="1196" y="155" width="3" height="29" fill="#fff" /><rect x="1205" y="150" width="1" height="28" fill="#000" /><rect x="1203" y="154" width="5" height="11" fill="#000" /><rect x="1213" y="131" width="1" height="59" fill="#000" /><rect x="1211" y="140" width="5" height="25" fill="#000" /><rect x="1212" y="141" width="3" height="23" fill="#fff" /><rect x="1221" y="128" width="1" height="28" fill="#000" /><rect x="1219" y="140" width="5" height="7" fill="#000" /><rect x="1229" y="144" width="1" height="39" fill="#000" /><rect x="1227" y="146" width="5" height="9" fill="#000" /><rect x="1237" y="141" width="1" height="5" fill="#000" /><rect x="1235" y="141" width="5" height="4" fill="#000" /><rect x="1245" y="122" width="1" height="26" fill="#000" /><rect x="1243" y="126" width="5" height="16" fill="#000" /><rect x="1244" y="127" width="3" height="14" fill="#fff" /><rect x="1253" y="110" width="1" height="48" fill="#000" /><rect x="1251" y="125" width="5" height="25" fill="#000" /><rect x="1261" y="109" width="1" height="42" fill="#000" /><rect x="1259" y="110" width="5" height="40" fill="#000" /><rect x="1260" y="111" width="3" height="38" fill="#fff" /><rect x="1269" y="96" width="1" height="21" fill="#000" /><rect x="1267" y="96" width="5" height="16" fill="#000" /><rect x="1268" y="97" width="3" height="14" fill="#fff" /><rect x="1277" y="88" width="1" height="18" fill="#000" /><rect x="1275" y="91" width="5" height="11" fill="#000" /><rect x="1276" y="92" width="3" height="9" fill="#fff" /><rect x="1285" y="91" width="1" height="6" fill="#000" /><rect x="1283" y="94" width="5" height="1" fill="#000" /><rect x="1293" y="70" width="1" height="28" fill="#000" /><rect x="1291" y="75" width="5" height="20" fill="#000" /><rect x="1292" y="76" width="3" height="18" fill="#fff" /><rect x="1301" y="73" width="1" height="22" fill="#000" /><rect x="1299" y="73" width="5" height="12" fill="#000" /><rect x="1309" y="78" width="1" height="27" fill="#000" /><rect x="1307" y="85" width="5" height="13" fill="#000" /><rect x="1317" y="95" width="1" height="29" fill="#000" /><rect x="1315" y="97" width="5" height="1" fill="#000" /><rect x="1325" y="77" width="1" height="27" fill="#000" /><rect x="1323" y="97" width="5" height="4" fill="#000" /><rect x="1333" y="90" width="1" height="5" fill="#000" /><rect x="1331" y="92" width="5" height="1" fill="#000" /><rect x="1341" y="81" width="1" height="44" fill="#000" /><rect x="1339" y="92" width="5" height="20" fill="#000" /><rect x="1349" y="95" width="1" height="29" fill="#000" /><rect x="1347" y="108" width="5" height="3" fill="#000" /><rect x="1348" y="109" width="3" height="1" fill="#fff" /><rect x="1357" y="100" width="1" height="33" fill="#000" /><rect x="1355" y="107" width="5" height="21" fill="#000" /><rect x="1365" y="103" width="1" height="29" fill="#000" /><rect x="1363" y="106" width="5" height="21" fill="#000" /><rect x="1364" y="107" width="3" height="19" fill="#fff" /><rect x="1373" y="100" width="1" height="24" fill="#000" /><rect x="1371" y="106" width="5" height="9" fill="#000" /><rect x="1381" y="119" width="1" height="6" fill="#000" /><rect x="1379" y="119" width="5" height="6" fill="#000" /><rect x="1380" y="120" width="3" height="4" fill="#fff" /><rect x="1389" y="117" width="1" height="59" fill="#000" /><rect x="1387" y="119" width="5" height="36" fill="#000" /><rect x="1397" y="144" width="1" height="36" fill="#000" /><rect x="1395" y="155" width="5" height="22" fill="#000" /><rect x="1405" y="175" width="1" height="57" fill="#000" /><rect x="1403" y="175" width="5" height="40" fill="#000" /><rect x="1413" y="204" width="1" height="42" fill="#000" /><rect x="1411" y="220" width="5" height="11" fill="#000" /><rect x="1421" y="221" width="1" height="39" fill="#000" /><rect x="1419" y="228" width="5" height="3" fill="#000" /><rect x="1420" y="229" width="3" height="1" fill="#fff" /><rect x="1429" y="228" width="1" height="12" fill="#000" /><rect x="1427" y="233" width="5" height="7" fill="#000" /><rect x="1437" y="195" width="1" height="49" fill="#000" /><rect x="1435" y="201" width="5" height="39" fill="#000" /><rect x="1436" y="202" width="3" height="37" fill="#fff" /><defs><clipPath id="cmain"><rect x="0" y="21" width="1687" height="566"/></clipPath><clipPath id="cmacd"><rect x="0" y="590" width="1687" height="155"/></clipPath><clipPath id="crsi"><rect x="0" y="748" width="1687" height="173"/></clipPath></defs><g clip-path="url(#cmain)"><polyline points="-3.0,437.0 5.5,445.5 13.5,438.5 21.5,414.9 29.5,389.9 37.5,373.0 45.5,357.8 53.5,342.9 61.5,351.8 69.5,355.5 77.5,344.2 85.5,333.0 93.5,326.8 101.5,325.7 109.5,324.7 117.5,322.5 125.5,319.7 133.5,323.7 141.5,327.7 149.5,337.5 157.5,350.0 165.5,350.8 173.5,357.2 181.5,356.9 189.5,357.0 197.5,356.4 205.5,356.5 213.5,355.8 221.5,352.2 229.5,349.5 237.5,350.3 245.5,351.5 253.5,350.6 261.5,352.9 269.5,353.5 277.5,354.3 285.5,347.0 293.5,344.7 301.5,340.3 309.5,336.5 317.5,338.8 325.5,334.5 333.5,328.5 341.5,320.6 349.5,300.8 357.5,289.9 365.5,279.5 373.5,272.4 381.5,265.4 389.5,253.1 397.5,234.7 405.5,223.1 413.5,203.0 421.5,181.9 429.5,161.9 437.5,148.2 445.5,140.6 453.5,143.4 461.5,145.1 469.5,147.3 477.5,149.1 485.5,150.6 493.5,154.0 501.5,155.5 509.5,155.3 517.5,155.7 525.5,155.5 533.5,156.7 541.5,156.6 549.5,156.3 557.5,154.9 565.5,153.9 573.5,163.5 581.5,177.2 589.5,199.3 597.5,222.3 605.5,235.8 613.5,234.5 621.5,229.4 629.5,229.2 637.5,229.7 645.5,234.8 653.5,233.9 661.5,234.1 669.5,231.4 677.5,218.3 685.5,209.8 693.5,203.3 701.5,198.7 709.5,193.0 717.5,191.9 725.5,191.9 733.5,186.8 741.5,185.6 749.5,186.7 757.5,187.3 765.5,188.2 773.5,189.1 781.5,188.6 789.5,190.0 797.5,190.7 805.5,195.7 813.5,196.9 821.5,197.0 829.5,192.7 837.5,185.1 845.5,177.3 853.5,170.2 861.5,157.7 869.5,147.9 877.5,136.2 885.5,126.1 893.5,118.7 901.5,110.9 909.5,105.4 917.5,102.3 925.5,100.3 933.5,98.8 941.5,96.7 949.5,95.7 957.5,93.1 965.5,95.4 973.5,95.5 981.5,92.9 989.5,87.3 997.5,79.6 1005.5,77.9 1013.5,73.8 1021.5,61.5 1029.5,61.7 1037.5,61.7 1045.5,61.7 1053.5,61.1 1061.5,58.5 1069.5,58.6 1077.5,58.0 1085.5,58.3 1093.5,58.5 1101.5,58.6 1109.5,58.5 1117.5,59.3 1125.5,59.5 1133.5,59.9 1141.5,62.5 1149.5,63.5 1157.5,69.3 1165.5,66.4 1173.5,72.0 1181.5,90.1 1189.5,93.9 1197.5,97.3 1205.5,101.3 1213.5,107.9 1221.5,106.8 1229.5,110.8 1237.5,110.0 1245.5,106.9 1253.5,107.9 1261.5,105.0 1269.5,97.5 1277.5,89.9 1285.5,82.8 1293.5,71.4 1301.5,63.2 1309.5,58.6 1317.5,54.4 1325.5,56.6 1333.5,57.3 1341.5,59.9 1349.5,63.2 1357.5,64.4 1365.5,66.5 1373.5,67.0 1381.5,68.4 1389.5,68.4 1397.5,63.0 1405.5,50.1 1413.5,38.4 1421.5,31.9 1429.5,28.1 1437.5,31.4" fill="none" stroke="#2aab63" stroke-width="1" /><polyline points="-3.0,609.0 5.5,604.3 13.5,594.5 21.5,584.5 29.5,574.5 37.5,564.9 45.5,549.9 53.5,534.2 61.5,518.5 69.5,502.8 77.5,491.5 85.5,483.2 93.5,478.2 101.5,474.5 109.5,469.8 117.5,462.9 125.5,455.5 133.5,448.3 141.5,441.0 149.5,431.0 157.5,416.6 165.5,412.1 173.5,408.6 181.5,409.0 189.5,409.1 197.5,407.5 205.5,407.1 213.5,406.8 221.5,403.3 229.5,402.6 237.5,402.9 245.5,404.7 253.5,405.9 261.5,403.9 269.5,403.1 277.5,401.8 285.5,398.9 293.5,396.9 301.5,395.4 309.5,393.9 317.5,394.6 325.5,392.9 333.5,389.4 341.5,383.9 349.5,377.2 357.5,372.3 365.5,365.8 373.5,361.6 381.5,358.1 389.5,353.5 397.5,346.1 405.5,336.9 413.5,324.1 421.5,312.2 429.5,299.0 437.5,287.1 445.5,279.9 453.5,276.1 461.5,272.8 469.5,270.4 477.5,264.9 485.5,259.2 493.5,255.2 501.5,251.7 509.5,252.1 517.5,251.7 525.5,249.7 533.5,247.3 541.5,247.4 549.5,248.3 557.5,252.8 565.5,257.2 573.5,262.2 581.5,267.7 589.5,274.1 597.5,279.4 605.5,283.1 613.5,281.5 621.5,279.2 629.5,277.2 637.5,277.4 645.5,279.4 653.5,279.1 661.5,279.1 669.5,277.4 677.5,273.1 685.5,270.9 693.5,268.8 701.5,264.8 709.5,261.4 717.5,255.9 725.5,249.7 733.5,245.4 741.5,242.3 749.5,239.9 757.5,238.1 765.5,235.1 773.5,233.4 781.5,232.8 789.5,230.8 797.5,229.7 805.5,227.5 813.5,225.6 821.5,223.3 829.5,219.9 837.5,218.3 845.5,216.4 853.5,214.1 861.5,210.2 869.5,206.8 877.5,202.6 885.5,199.0 893.5,195.9 901.5,191.6 909.5,186.6 917.5,181.9 925.5,178.6 933.5,173.9 941.5,169.2 949.5,164.2 957.5,157.8 965.5,151.7 973.5,146.0 981.5,140.1 989.5,135.1 997.5,130.2 1005.5,126.7 1013.5,122.2 1021.5,117.4 1029.5,115.8 1037.5,115.2 1045.5,114.6 1053.5,112.8 1061.5,114.3 1069.5,113.7 1077.5,114.0 1085.5,113.8 1093.5,113.7 1101.5,113.2 1109.5,113.3 1117.5,114.5 1125.5,115.8 1133.5,118.2 1141.5,121.3 1149.5,126.3 1157.5,131.2 1165.5,137.2 1173.5,143.3 1181.5,150.1 1189.5,153.4 1197.5,155.1 1205.5,157.2 1213.5,159.0 1221.5,158.1 1229.5,159.6 1237.5,159.2 1245.5,158.0 1253.5,158.5 1261.5,157.8 1269.5,155.9 1277.5,153.9 1285.5,151.7 1293.5,147.8 1301.5,144.3 1309.5,139.9 1317.5,136.1 1325.5,130.2 1333.5,124.7 1341.5,120.8 1349.5,117.1 1357.5,115.8 1365.5,112.8 1373.5,111.5 1381.5,110.2 1389.5,110.2 1397.5,111.8 1405.5,116.2 1413.5,120.2 1421.5,126.2 1429.5,133.3 1437.5,138.8" fill="none" stroke="#2aab63" stroke-width="1" /><polyline points="-3.0,781.0 5.5,763.1 13.5,750.5 21.5,754.1 29.5,759.1 37.5,756.8 45.5,742.0 53.5,725.5 61.5,685.2 69.5,650.1 77.5,638.8 85.5,633.4 93.5,629.6 101.5,623.3 109.5,614.9 117.5,603.3 125.5,591.3 133.5,572.9 141.5,554.3 149.5,524.5 157.5,483.3 165.5,473.4 173.5,459.9 181.5,461.1 189.5,461.2 197.5,458.6 205.5,457.8 213.5,457.8 221.5,454.4 229.5,455.6 237.5,455.4 245.5,457.9 253.5,461.1 261.5,454.8 269.5,452.8 277.5,449.2 285.5,450.7 293.5,449.1 301.5,450.4 309.5,451.4 317.5,450.3 325.5,451.3 333.5,450.4 341.5,447.1 349.5,453.7 357.5,454.7 365.5,452.1 373.5,450.7 381.5,450.9 389.5,453.9 397.5,457.6 405.5,450.6 413.5,445.3 421.5,442.5 429.5,436.1 437.5,425.9 445.5,419.2 453.5,408.9 461.5,400.4 469.5,393.4 477.5,380.8 485.5,367.9 493.5,356.5 501.5,347.8 509.5,348.9 517.5,347.6 525.5,343.9 533.5,338.0 541.5,338.3 549.5,340.3 557.5,350.7 565.5,360.6 573.5,361.0 581.5,358.2 589.5,349.0 597.5,336.6 605.5,330.4 613.5,328.5 621.5,329.0 629.5,325.3 637.5,325.2 645.5,324.0 653.5,324.2 661.5,324.1 669.5,323.4 677.5,327.9 685.5,332.0 693.5,334.2 701.5,330.9 709.5,329.7 717.5,319.9 725.5,307.4 733.5,304.1 741.5,299.1 749.5,293.1 757.5,288.8 765.5,281.9 773.5,277.7 781.5,276.9 789.5,271.5 797.5,268.6 805.5,259.3 813.5,254.2 821.5,249.7 829.5,247.1 837.5,251.5 845.5,255.5 853.5,258.0 861.5,262.7 869.5,265.6 877.5,269.0 885.5,271.9 893.5,273.1 901.5,272.2 909.5,267.8 917.5,261.6 925.5,256.8 933.5,249.0 941.5,241.6 949.5,232.8 957.5,222.5 965.5,208.0 973.5,196.5 981.5,187.2 989.5,182.9 997.5,180.8 1005.5,175.4 1013.5,170.5 1021.5,173.3 1029.5,169.9 1037.5,168.6 1045.5,167.5 1053.5,164.5 1061.5,170.2 1069.5,168.7 1077.5,170.1 1085.5,169.4 1093.5,168.9 1101.5,167.8 1109.5,168.2 1117.5,169.8 1125.5,172.1 1133.5,176.4 1141.5,180.2 1149.5,189.1 1157.5,193.2 1165.5,208.0 1173.5,214.6 1181.5,210.1 1189.5,213.0 1197.5,212.9 1205.5,213.1 1213.5,210.1 1221.5,209.3 1229.5,208.4 1237.5,208.4 1245.5,209.1 1253.5,209.1 1261.5,210.6 1269.5,214.3 1277.5,218.0 1285.5,220.6 1293.5,224.3 1301.5,225.5 1309.5,221.3 1317.5,217.7 1325.5,203.7 1333.5,192.0 1341.5,181.8 1349.5,171.0 1357.5,167.1 1365.5,159.2 1373.5,156.1 1381.5,152.0 1389.5,152.0 1397.5,160.6 1405.5,182.3 1413.5,202.1 1421.5,220.4 1429.5,238.5 1437.5,246.2" fill="none" stroke="#2aab63" stroke-width="1" /></g><g clip-path="url(#cmacd)"><rect x="5" y="657" width="1" height="46" fill="#c0c0c0" /><rect x="13" y="657" width="1" height="37" fill="#c0c0c0" /><rect x="21" y="657" width="1" height="25" fill="#c0c0c0" /><rect x="29" y="657" width="1" height="14" fill="#c0c0c0" /><rect x="37" y="657" width="1" height="6" fill="#c0c0c0" /><rect x="45" y="656" width="1" height="2" fill="#c0c0c0" /><rect x="53" y="649" width="1" height="9" fill="#c0c0c0" /><rect x="61" y="647" width="1" height="11" fill="#c0c0c0" /><rect x="69" y="640" width="1" height="18" fill="#c0c0c0" /><rect x="77" y="635" width="1" height="23" fill="#c0c0c0" /><rect x="85" y="633" width="1" height="25" fill="#c0c0c0" /><rect x="93" y="633" width="1" height="25" fill="#c0c0c0" /><rect x="101" y="637" width="1" height="21" fill="#c0c0c0" /><rect x="109" y="638" width="1" height="20" fill="#c0c0c0" /><rect x="117" y="640" width="1" height="18" fill="#c0c0c0" /><rect x="125" y="639" width="1" height="19" fill="#c0c0c0" /><rect x="133" y="639" width="1" height="19" fill="#c0c0c0" /><rect x="141" y="637" width="1" height="21" fill="#c0c0c0" /><rect x="149" y="635" width="1" height="23" fill="#c0c0c0" /><rect x="157" y="632" width="1" height="26" fill="#c0c0c0" /><rect x="165" y="632" width="1" height="26" fill="#c0c0c0" /><rect x="173" y="635" width="1" height="23" fill="#c0c0c0" /><rect x="181" y="639" width="1" height="19" fill="#c0c0c0" /><rect x="189" y="641" width="1" height="17" fill="#c0c0c0" /><rect x="197" y="641" width="1" height="17" fill="#c0c0c0" /><rect x="205" y="643" width="1" height="15" fill="#c0c0c0" /><rect x="213" y="643" width="1" height="15" fill="#c0c0c0" /><rect x="221" y="641" width="1" height="17" fill="#c0c0c0" /><rect x="229" y="639" width="1" height="19" fill="#c0c0c0" /><rect x="237" y="639" width="1" height="19" fill="#c0c0c0" /><rect x="245" y="643" width="1" height="15" fill="#c0c0c0" /><rect x="253" y="648" width="1" height="10" fill="#c0c0c0" /><rect x="261" y="649" width="1" height="9" fill="#c0c0c0" /><rect x="269" y="651" width="1" height="7" fill="#c0c0c0" /><rect x="277" y="651" width="1" height="7" fill="#c0c0c0" /><rect x="285" y="647" width="1" height="11" fill="#c0c0c0" /><rect x="293" y="646" width="1" height="12" fill="#c0c0c0" /><rect x="301" y="643" width="1" height="15" fill="#c0c0c0" /><rect x="309" y="642" width="1" height="16" fill="#c0c0c0" /><rect x="317" y="641" width="1" height="17" fill="#c0c0c0" /><rect x="325" y="640" width="1" height="18" fill="#c0c0c0" /><rect x="333" y="639" width="1" height="19" fill="#c0c0c0" /><rect x="341" y="636" width="1" height="22" fill="#c0c0c0" /><rect x="349" y="630" width="1" height="28" fill="#c0c0c0" /><rect x="357" y="628" width="1" height="30" fill="#c0c0c0" /><rect x="365" y="626" width="1" height="32" fill="#c0c0c0" /><rect x="373" y="626" width="1" height="32" fill="#c0c0c0" /><rect x="381" y="626" width="1" height="32" fill="#c0c0c0" /><rect x="389" y="623" width="1" height="35" fill="#c0c0c0" /><rect x="397" y="619" width="1" height="39" fill="#c0c0c0" /><rect x="405" y="617" width="1" height="41" fill="#c0c0c0" /><rect x="413" y="611" width="1" height="47" fill="#c0c0c0" /><rect x="421" y="605" width="1" height="53" fill="#c0c0c0" /><rect x="429" y="600" width="1" height="58" fill="#c0c0c0" /><rect x="437" y="598" width="1" height="60" fill="#c0c0c0" /><rect x="445" y="600" width="1" height="58" fill="#c0c0c0" /><rect x="453" y="610" width="1" height="48" fill="#c0c0c0" /><rect x="461" y="618" width="1" height="40" fill="#c0c0c0" /><rect x="469" y="626" width="1" height="32" fill="#c0c0c0" /><rect x="477" y="628" width="1" height="30" fill="#c0c0c0" /><rect x="485" y="629" width="1" height="29" fill="#c0c0c0" /><rect x="493" y="632" width="1" height="26" fill="#c0c0c0" /><rect x="501" y="633" width="1" height="25" fill="#c0c0c0" /><rect x="509" y="638" width="1" height="20" fill="#c0c0c0" /><rect x="517" y="642" width="1" height="16" fill="#c0c0c0" /><rect x="525" y="642" width="1" height="16" fill="#c0c0c0" /><rect x="533" y="643" width="1" height="15" fill="#c0c0c0" /><rect x="541" y="647" width="1" height="11" fill="#c0c0c0" /><rect x="549" y="649" width="1" height="9" fill="#c0c0c0" /><rect x="557" y="655" width="1" height="3" fill="#c0c0c0" /><rect x="565" y="657" width="1" height="3" fill="#c0c0c0" /><rect x="573" y="657" width="1" height="3" fill="#c0c0c0" /><rect x="581" y="657" width="1" height="2" fill="#c0c0c0" /><rect x="589" y="657" width="1" height="2" fill="#c0c0c0" /><rect x="597" y="657" width="1" height="1" fill="#c0c0c0" /><rect x="605" y="657" width="1" height="1" fill="#c0c0c0" /><rect x="613" y="656" width="1" height="2" fill="#c0c0c0" /><rect x="621" y="652" width="1" height="6" fill="#c0c0c0" /><rect x="629" y="652" width="1" height="6" fill="#c0c0c0" /><rect x="637" y="651" width="1" height="7" fill="#c0c0c0" /><rect x="645" y="652" width="1" height="6" fill="#c0c0c0" /><rect x="653" y="651" width="1" height="7" fill="#c0c0c0" /><rect x="661" y="650" width="1" height="8" fill="#c0c0c0" /><rect x="669" y="650" width="1" height="8" fill="#c0c0c0" /><rect x="677" y="645" width="1" height="13" fill="#c0c0c0" /><rect x="685" y="642" width="1" height="16" fill="#c0c0c0" /><rect x="693" y="641" width="1" height="17" fill="#c0c0c0" /><rect x="701" y="640" width="1" height="18" fill="#c0c0c0" /><rect x="709" y="639" width="1" height="19" fill="#c0c0c0" /><rect x="717" y="639" width="1" height="19" fill="#c0c0c0" /><rect x="725" y="638" width="1" height="20" fill="#c0c0c0" /><rect x="733" y="637" width="1" height="21" fill="#c0c0c0" /><rect x="741" y="638" width="1" height="20" fill="#c0c0c0" /><rect x="749" y="641" width="1" height="17" fill="#c0c0c0" /><rect x="757" y="643" width="1" height="15" fill="#c0c0c0" /><rect x="765" y="643" width="1" height="15" fill="#c0c0c0" /><rect x="773" y="645" width="1" height="13" fill="#c0c0c0" /><rect x="781" y="646" width="1" height="12" fill="#c0c0c0" /><rect x="789" y="647" width="1" height="11" fill="#c0c0c0" /><rect x="797" y="648" width="1" height="10" fill="#c0c0c0" /><rect x="805" y="649" width="1" height="9" fill="#c0c0c0" /><rect x="813" y="649" width="1" height="9" fill="#c0c0c0" /><rect x="821" y="648" width="1" height="10" fill="#c0c0c0" /><rect x="829" y="645" width="1" height="13" fill="#c0c0c0" /><rect x="837" y="643" width="1" height="15" fill="#c0c0c0" /><rect x="845" y="640" width="1" height="18" fill="#c0c0c0" /><rect x="853" y="638" width="1" height="20" fill="#c0c0c0" /><rect x="861" y="635" width="1" height="23" fill="#c0c0c0" /><rect x="869" y="633" width="1" height="25" fill="#c0c0c0" /><rect x="877" y="631" width="1" height="27" fill="#c0c0c0" /><rect x="885" y="629" width="1" height="29" fill="#c0c0c0" /><rect x="893" y="629" width="1" height="29" fill="#c0c0c0" /><rect x="901" y="628" width="1" height="30" fill="#c0c0c0" /><rect x="909" y="628" width="1" height="30" fill="#c0c0c0" /><rect x="917" y="629" width="1" height="29" fill="#c0c0c0" /><rect x="925" y="631" width="1" height="27" fill="#c0c0c0" /><rect x="933" y="632" width="1" height="26" fill="#c0c0c0" /><rect x="941" y="632" width="1" height="26" fill="#c0c0c0" /><rect x="949" y="633" width="1" height="25" fill="#c0c0c0" /><rect x="957" y="631" width="1" height="27" fill="#c0c0c0" /><rect x="965" y="631" width="1" height="27" fill="#c0c0c0" /><rect x="973" y="630" width="1" height="28" fill="#c0c0c0" /><rect x="981" y="629" width="1" height="29" fill="#c0c0c0" /><rect x="989" y="628" width="1" height="30" fill="#c0c0c0" /><rect x="997" y="626" width="1" height="32" fill="#c0c0c0" /><rect x="1005" y="627" width="1" height="31" fill="#c0c0c0" /><rect x="1013" y="627" width="1" height="31" fill="#c0c0c0" /><rect x="1021" y="625" width="1" height="33" fill="#c0c0c0" /><rect x="1029" y="629" width="1" height="29" fill="#c0c0c0" /><rect x="1037" y="633" width="1" height="25" fill="#c0c0c0" /><rect x="1045" y="636" width="1" height="22" fill="#c0c0c0" /><rect x="1053" y="637" width="1" height="21" fill="#c0c0c0" /><rect x="1061" y="644" width="1" height="14" fill="#c0c0c0" /><rect x="1069" y="645" width="1" height="13" fill="#c0c0c0" /><rect x="1077" y="649" width="1" height="9" fill="#c0c0c0" /><rect x="1085" y="652" width="1" height="6" fill="#c0c0c0" /><rect x="1093" y="654" width="1" height="4" fill="#c0c0c0" /><rect x="1101" y="654" width="1" height="4" fill="#c0c0c0" /><rect x="1109" y="655" width="1" height="3" fill="#c0c0c0" /><rect x="1117" y="655" width="1" height="3" fill="#c0c0c0" /><rect x="1125" y="656" width="1" height="2" fill="#c0c0c0" /><rect x="1133" y="657" width="1" height="2" fill="#c0c0c0" /><rect x="1141" y="657" width="1" height="4" fill="#c0c0c0" /><rect x="1149" y="657" width="1" height="7" fill="#c0c0c0" /><rect x="1157" y="657" width="1" height="10" fill="#c0c0c0" /><rect x="1165" y="657" width="1" height="15" fill="#c0c0c0" /><rect x="1173" y="657" width="1" height="17" fill="#c0c0c0" /><rect x="1181" y="657" width="1" height="18" fill="#c0c0c0" /><rect x="1189" y="657" width="1" height="18" fill="#c0c0c0" /><rect x="1197" y="657" width="1" height="15" fill="#c0c0c0" /><rect x="1205" y="657" width="1" height="14" fill="#c0c0c0" /><rect x="1213" y="657" width="1" height="10" fill="#c0c0c0" /><rect x="1221" y="657" width="1" height="8" fill="#c0c0c0" /><rect x="1229" y="657" width="1" height="7" fill="#c0c0c0" /><rect x="1237" y="657" width="1" height="5" fill="#c0c0c0" /><rect x="1245" y="657" width="1" height="3" fill="#c0c0c0" /><rect x="1253" y="657" width="1" height="2" fill="#c0c0c0" /><rect x="1261" y="655" width="1" height="3" fill="#c0c0c0" /><rect x="1269" y="651" width="1" height="7" fill="#c0c0c0" /><rect x="1277" y="647" width="1" height="11" fill="#c0c0c0" /><rect x="1285" y="645" width="1" height="13" fill="#c0c0c0" /><rect x="1293" y="642" width="1" height="16" fill="#c0c0c0" /><rect x="1301" y="640" width="1" height="18" fill="#c0c0c0" /><rect x="1309" y="640" width="1" height="18" fill="#c0c0c0" /><rect x="1317" y="640" width="1" height="18" fill="#c0c0c0" /><rect x="1325" y="641" width="1" height="17" fill="#c0c0c0" /><rect x="1333" y="641" width="1" height="17" fill="#c0c0c0" /><rect x="1341" y="643" width="1" height="15" fill="#c0c0c0" /><rect x="1349" y="644" width="1" height="14" fill="#c0c0c0" /><rect x="1357" y="647" width="1" height="11" fill="#c0c0c0" /><rect x="1365" y="647" width="1" height="11" fill="#c0c0c0" /><rect x="1373" y="649" width="1" height="9" fill="#c0c0c0" /><rect x="1381" y="650" width="1" height="8" fill="#c0c0c0" /><rect x="1389" y="654" width="1" height="4" fill="#c0c0c0" /><rect x="1397" y="657" width="1" height="3" fill="#c0c0c0" /><rect x="1405" y="657" width="1" height="10" fill="#c0c0c0" /><rect x="1413" y="657" width="1" height="17" fill="#c0c0c0" /><rect x="1421" y="657" width="1" height="22" fill="#c0c0c0" /><rect x="1429" y="657" width="1" height="27" fill="#c0c0c0" /><rect x="1437" y="657" width="1" height="27" fill="#c0c0c0" /><polyline points="-3.0,738.0 5.5,730.8 13.5,722.7 21.5,714.7 29.5,706.6 37.5,698.5 45.5,690.5 53.5,682.4 61.5,674.4 69.5,667.4 77.5,659.9 85.5,653.2 93.5,647.9 101.5,644.3 109.5,641.6 117.5,639.8 125.5,638.7 133.5,637.8 141.5,637.4 149.5,637.4 157.5,637.3 165.5,637.1 173.5,636.9 181.5,636.9 189.5,637.0 197.5,637.2 205.5,637.7 213.5,638.3 221.5,638.9 229.5,639.7 237.5,640.5 245.5,641.4 253.5,642.4 261.5,643.3 269.5,644.4 277.5,645.3 285.5,645.8 293.5,646.4 301.5,646.9 309.5,647.2 317.5,646.9 325.5,646.0 333.5,644.8 341.5,643.2 349.5,640.9 357.5,638.8 365.5,636.6 373.5,634.6 381.5,632.9 389.5,630.9 397.5,628.6 405.5,626.2 413.5,623.4 421.5,620.6 429.5,617.5 437.5,614.4 445.5,611.5 453.5,609.8 461.5,609.2 469.5,610.0 477.5,611.2 485.5,613.2 493.5,616.2 501.5,619.8 509.5,624.2 517.5,628.8 525.5,632.3 533.5,635.1 541.5,637.5 549.5,639.9 557.5,642.8 565.5,645.8 573.5,648.6 581.5,650.9 589.5,652.7 597.5,654.4 605.5,656.0 613.5,656.9 621.5,657.2 629.5,657.0 637.5,656.1 645.5,655.4 653.5,654.6 661.5,653.7 669.5,652.9 677.5,651.7 685.5,650.2 693.5,648.9 701.5,647.5 709.5,646.2 717.5,644.8 725.5,643.3 733.5,641.8 741.5,640.5 749.5,640.0 757.5,640.1 765.5,640.4 773.5,640.9 781.5,641.7 789.5,642.6 797.5,643.7 805.5,645.1 813.5,646.3 821.5,647.1 829.5,647.4 837.5,647.3 845.5,646.7 853.5,645.9 861.5,644.6 869.5,642.9 877.5,640.8 885.5,638.6 893.5,636.4 901.5,634.5 909.5,632.9 917.5,631.7 925.5,631.0 933.5,630.6 941.5,630.5 949.5,630.7 957.5,631.0 965.5,631.2 973.5,631.5 981.5,631.5 989.5,631.3 997.5,630.7 1005.5,630.2 1013.5,629.6 1021.5,628.7 1029.5,628.4 1037.5,628.6 1045.5,629.3 1053.5,630.2 1061.5,632.0 1069.5,634.2 1077.5,636.6 1085.5,639.4 1093.5,642.6 1101.5,645.4 1109.5,647.8 1117.5,649.9 1125.5,652.0 1133.5,653.6 1141.5,655.1 1149.5,656.7 1157.5,658.2 1165.5,660.0 1173.5,662.2 1181.5,664.4 1189.5,666.5 1197.5,668.1 1205.5,669.5 1213.5,670.2 1221.5,670.3 1229.5,670.1 1237.5,669.1 1245.5,667.4 1253.5,665.7 1261.5,663.6 1269.5,661.3 1277.5,658.8 1285.5,656.4 1293.5,653.9 1301.5,651.4 1309.5,649.0 1317.5,647.0 1325.5,645.1 1333.5,643.5 1341.5,642.7 1349.5,642.3 1357.5,642.5 1365.5,643.1 1373.5,644.1 1381.5,645.2 1389.5,646.7 1397.5,648.7 1405.5,651.5 1413.5,654.9 1421.5,658.7 1429.5,662.7 1437.5,666.7" fill="none" stroke="#ff0000" stroke-width="1" stroke-dasharray="3 3"/></g><line x1="0" y1="783.5" x2="1687" y2="783.5" stroke="#c0c0c0" stroke-width="1" stroke-dasharray="3 3" stroke-dashoffset="2"/><line x1="0" y1="834.5" x2="1687" y2="834.5" stroke="#c0c0c0" stroke-width="1" stroke-dasharray="3 3" stroke-dashoffset="2"/><line x1="0" y1="895.5" x2="1687" y2="895.5" stroke="#c0c0c0" stroke-width="1" stroke-dasharray="3 3" stroke-dashoffset="2"/><g clip-path="url(#crsi)"><polyline points="-3.0,843.7 5.5,830.7 13.5,831.6 21.5,824.8 29.5,822.7 37.5,826.3 45.5,825.8 53.5,821.9 61.5,828.8 69.5,820.7 77.5,820.7 85.5,823.2 93.5,828.2 101.5,834.7 109.5,831.5 117.5,831.6 125.5,827.2 133.5,828.1 141.5,823.1 149.5,822.6 157.5,816.3 165.5,825.9 173.5,832.1 181.5,837.0 189.5,831.5 197.5,829.2 205.5,834.3 213.5,827.7 221.5,823.1 229.5,821.7 237.5,827.6 245.5,838.7 253.5,841.7 261.5,834.8 269.5,836.6 277.5,833.2 285.5,820.4 293.5,826.9 301.5,822.7 309.5,822.7 317.5,824.3 325.5,822.6 333.5,820.2 341.5,815.0 349.5,805.4 357.5,813.7 365.5,811.6 373.5,817.3 381.5,816.0 389.5,808.6 397.5,802.1 405.5,804.2 413.5,794.8 421.5,793.1 429.5,790.5 437.5,795.8 445.5,812.3 453.5,838.2 461.5,835.3 469.5,840.1 477.5,827.4 485.5,824.7 493.5,831.1 501.5,828.2 509.5,837.2 517.5,838.2 525.5,828.5 533.5,830.3 541.5,841.3 549.5,837.0 557.5,846.1 565.5,846.9 573.5,835.3 581.5,834.5 589.5,835.1 597.5,832.0 605.5,834.4 613.5,830.3 621.5,823.2 629.5,832.0 637.5,828.6 645.5,835.6 653.5,829.4 661.5,828.0 669.5,828.4 677.5,815.2 685.5,816.0 693.5,819.3 701.5,822.6 709.5,820.4 717.5,820.4 725.5,816.5 733.5,815.5 741.5,825.2 749.5,832.1 757.5,832.6 765.5,826.2 773.5,832.6 781.5,829.9 789.5,829.9 797.5,833.2 805.5,833.8 813.5,824.9 821.5,820.2 829.5,810.5 837.5,806.6 845.5,805.2 853.5,805.2 861.5,797.1 869.5,798.7 877.5,794.4 885.5,794.1 893.5,800.3 901.5,798.1 909.5,800.9 917.5,807.4 925.5,816.0 933.5,810.1 941.5,806.5 949.5,805.1 957.5,795.4 965.5,802.6 973.5,799.2 981.5,794.0 989.5,792.8 997.5,789.6 1005.5,809.7 1013.5,802.6 1021.5,793.9 1029.5,830.0 1037.5,832.1 1045.5,832.5 1053.5,825.3 1061.5,848.4 1069.5,833.5 1077.5,842.4 1085.5,841.7 1093.5,837.8 1101.5,832.6 1109.5,836.2 1117.5,834.7 1125.5,838.2 1133.5,843.0 1141.5,843.7 1149.5,854.4 1157.5,849.6 1165.5,862.1 1173.5,854.7 1181.5,848.3 1189.5,846.5 1197.5,835.0 1205.5,838.6 1213.5,829.8 1221.5,832.2 1229.5,835.4 1237.5,831.5 1245.5,824.7 1253.5,834.5 1261.5,821.3 1269.5,817.2 1277.5,815.8 1285.5,817.2 1293.5,811.5 1301.5,816.0 1309.5,822.5 1317.5,822.5 1325.5,824.0 1333.5,820.8 1341.5,830.9 1349.5,829.6 1357.5,839.0 1365.5,829.3 1373.5,833.2 1381.5,835.7 1389.5,850.6 1397.5,858.1 1405.5,868.5 1413.5,872.1 1421.5,871.0 1429.5,873.6 1437.5,853.5" fill="none" stroke="#1e90ff" stroke-width="1" /></g><rect x="1688" y="591" width="3" height="1" fill="#000" /><text x="1691" y="600" font-size="9.3" fill="#000" text-anchor="start" font-weight="normal" stroke="#000" stroke-width="0.2" >969.98</text><rect x="1688" y="658" width="3" height="1" fill="#000" /><text x="1691" y="661.5" font-size="9.3" fill="#000" text-anchor="start" font-weight="normal" stroke="#000" stroke-width="0.2" >0.00</text><rect x="1688" y="744" width="3" height="1" fill="#000" /><text x="1691" y="742" font-size="9.3" fill="#000" text-anchor="start" font-weight="normal" stroke="#000" stroke-width="0.2" >-1287.89</text><rect x="1688" y="750" width="3" height="1" fill="#000" /><text x="1691" y="758" font-size="9.3" fill="#000" text-anchor="start" font-weight="normal" stroke="#000" stroke-width="0.2" >100</text><rect x="1688" y="783" width="3" height="1" fill="#000" /><text x="1691" y="787" font-size="9.3" fill="#000" text-anchor="start" font-weight="normal" stroke="#000" stroke-width="0.2" >80</text><rect x="1688" y="834" width="3" height="1" fill="#000" /><text x="1691" y="838" font-size="9.3" fill="#000" text-anchor="start" font-weight="normal" stroke="#000" stroke-width="0.2" >50</text><rect x="1688" y="895" width="3" height="1" fill="#000" /><text x="1691" y="898.5" font-size="9.3" fill="#000" text-anchor="start" font-weight="normal" stroke="#000" stroke-width="0.2" >15</text><rect x="1688" y="920" width="3" height="1" fill="#000" /><text x="1691" y="918" font-size="9.3" fill="#000" text-anchor="start" font-weight="normal" stroke="#000" stroke-width="0.2" >0</text><text x="1.5" y="602" font-size="9.3" fill="#000" text-anchor="start" font-weight="normal" stroke="#000" stroke-width="0.2" >MACD(12,26,9) -376.54 -129.83</text><text x="1.5" y="760.5" font-size="9.3" fill="#000" text-anchor="start" font-weight="normal" stroke="#000" stroke-width="0.2" >RSI(14) 39.2937</text><rect x="1316" y="214" width="176" height="6" fill="#00ff00" /><g clip-path="url(#cmain)"><line x1="787.3" y1="270.6" x2="1030" y2="54" stroke="#ff0000" stroke-width="3" shape-rendering="crispEdges"/><polygon points="1030.0,54.0 1025.2,66.7 1016.9,57.3" fill="#ff0000" shape-rendering="crispEdges"/><line x1="1030" y1="54" x2="1166.5" y2="222.5" stroke="#ff0000" stroke-width="3" shape-rendering="crispEdges"/><polygon points="1166.5,222.5 1154.1,217.1 1163.8,209.2" fill="#ff0000" shape-rendering="crispEdges"/><line x1="1166.5" y1="222.5" x2="1297" y2="75.5" stroke="#ff0000" stroke-width="3" shape-rendering="crispEdges"/><polygon points="1297.0,75.5 1293.7,88.7 1284.3,80.3" fill="#ff0000" shape-rendering="crispEdges"/><line x1="1297" y1="75.5" x2="1426" y2="251.5" stroke="#ff0000" stroke-width="3" shape-rendering="crispEdges"/><polygon points="1426.0,251.5 1413.8,245.5 1424.0,238.1" fill="#ff0000" shape-rendering="crispEdges"/><line x1="1426" y1="251.5" x2="1445" y2="200" stroke="#ff0000" stroke-width="3" shape-rendering="crispEdges"/><polygon points="1445.0,200.0 1446.2,211.1 1436.8,207.7" fill="#ff0000" shape-rendering="crispEdges"/></g><rect x="950.5" y="43.5" width="61" height="18" fill="#fff" stroke="#ff0000" stroke-width="1"/><text x="952.5" y="59" font-size="16" fill="#ff0000" textLength="57.5" lengthAdjust="spacingAndGlyphs" shape-rendering="auto">29119.7</text><rect x="1012" y="52" width="7" height="1" fill="#ff0000" /><rect x="366.5" y="140.5" width="61" height="18" fill="#fff" stroke="#ff0000" stroke-width="1"/><text x="368.5" y="156" font-size="16" fill="#ff0000" textLength="57" lengthAdjust="spacingAndGlyphs" shape-rendering="auto">27629.4</text><rect x="428.5" y="147.5" width="3" height="3" fill="#fff" stroke="#ff0000" stroke-width="1"/><rect x="936.5" y="203.5" width="73" height="24" fill="#fff" stroke="#ff0000" stroke-width="1"/><text x="938" y="224" font-size="21.5" fill="#ff0000" textLength="70" lengthAdjust="spacingAndGlyphs" shape-rendering="auto">26626.7</text><rect x="925" y="215" width="11" height="1" fill="#ff0000" /><rect x="1094.5" y="220.5" width="61" height="18" fill="#fff" stroke="#ff0000" stroke-width="1"/><text x="1096.5" y="236" font-size="16" fill="#ff0000" textLength="57.5" lengthAdjust="spacingAndGlyphs" shape-rendering="auto">26412.4</text><rect x="1156" y="229" width="10" height="1" fill="#ff0000" /><polygon points="1445,21 1454,21 1449.5,26" fill="#b4b4b4"/><polygon points="0,31 3.5,27 7,31" fill="#000" shape-rendering="auto"/><text x="12.5" y="32" font-size="9.3" fill="#000" text-anchor="start" font-weight="normal" stroke="#000" stroke-width="0.2" textLength="48.5" lengthAdjust="spacingAndGlyphs">DJ30-,Daily</text><text x="67" y="32" font-size="9.3" fill="#000" text-anchor="start" font-weight="normal" stroke="#000" stroke-width="0.2" textLength="140.5" lengthAdjust="spacingAndGlyphs">26269.0 26935.0 26219.0 26838.0</text><defs><linearGradient id="gtab" x1="0" y1="0" x2="0" y2="1"><stop offset="0" stop-color="#f75a5a"/><stop offset="1" stop-color="#d92b2b"/></linearGradient><linearGradient id="gbox" x1="0" y1="0" x2="0" y2="1"><stop offset="0" stop-color="#e43c3c"/><stop offset="0.5" stop-color="#cc1a1a"/><stop offset="1" stop-color="#ad0000"/></linearGradient><linearGradient id="gbtn" x1="0" y1="0" x2="0" y2="1"><stop offset="0" stop-color="#f6f6f6"/><stop offset="0.45" stop-color="#e6e6e6"/><stop offset="0.5" stop-color="#d6d6d6"/><stop offset="1" stop-color="#cfcfcf"/></linearGradient></defs><rect x="0" y="40" width="52" height="24" fill="url(#gtab)" /><rect x="51" y="40" width="1" height="24" fill="#b01010" /><rect x="0" y="40" width="1" height="64" fill="#b01010" /><rect x="167" y="40" width="53" height="24" fill="url(#gtab)" /><rect x="167" y="40" width="1" height="24" fill="#b01010" /><rect x="219" y="40" width="1" height="64" fill="#b01010" /><rect x="4" y="63" width="44" height="1" fill="#8a0000" /><rect x="171" y="63" width="44" height="1" fill="#8a0000" /><rect x="0" y="64" width="109" height="40" fill="url(#gbox)" /><rect x="111" y="64" width="109" height="40" fill="url(#gbox)" /><rect x="52" y="64" width="115" height="1" fill="#a00000" /><rect x="54" y="40" width="111" height="22" fill="#aeb2ba" /><rect x="55" y="41" width="109" height="20" fill="#ffffff" /><rect x="55" y="41" width="20" height="20" fill="url(#gbtn)" /><rect x="75" y="41" width="1" height="20" fill="#c4c8cc" /><rect x="144" y="41" width="20" height="20" fill="url(#gbtn)" /><rect x="143" y="41" width="1" height="20" fill="#c4c8cc" /><polygon points="61.5,48.8 67.5,48.8 64.5,52.2" fill="#4a5ab8" shape-rendering="auto"/><polygon points="150.5,52.2 156.5,52.2 153.5,48.8" fill="#4a5ab8" shape-rendering="auto"/><text x="139.5" y="55" font-size="12.5" fill="#000" text-anchor="end" font-weight="normal" stroke="#000" stroke-width="0.1" textLength="22" lengthAdjust="spacingAndGlyphs">1.00</text><text x="12.5" y="56" font-size="12.5" fill="#fff" text-anchor="start" font-weight="normal" textLength="25" lengthAdjust="spacingAndGlyphs">SELL</text><text x="180.5" y="56" font-size="12.5" fill="#fff" text-anchor="start" font-weight="normal" textLength="23.5" lengthAdjust="spacingAndGlyphs">BUY</text><text x="16.3" y="95" font-size="12.5" fill="#fff" text-anchor="start" font-weight="bold" stroke="#fff" stroke-width="0.2" textLength="34.5" lengthAdjust="spacingAndGlyphs">26836</text><text x="126.3" y="95" font-size="12.5" fill="#fff" text-anchor="start" font-weight="bold" stroke="#fff" stroke-width="0.2" textLength="34.5" lengthAdjust="spacingAndGlyphs">26847</text><rect x="55" y="92" width="3" height="3" fill="#fff" /><rect x="166" y="92" width="3" height="3" fill="#fff" /><text x="62" y="95" font-size="33" fill="#fff" text-anchor="start" font-weight="normal" stroke="#cc1c1c" stroke-width="0.45" textLength="16" lengthAdjust="spacingAndGlyphs">5</text><text x="173" y="95" font-size="33" fill="#fff" text-anchor="start" font-weight="normal" stroke="#cc1c1c" stroke-width="0.45" textLength="16" lengthAdjust="spacingAndGlyphs">5</text><path d="M1280.5 220.5 l-8 6 M1278 223.5 h9.5 l-7 5 M1278.5 224.5 l1.5 2 M1279.5 228.5 l-8 2.5 M1280 231.5 h9 l-8 5 l-9.5 2.5 M1272.5 235 l7 -2.5 M1278 232.5 l1.5 2" stroke="#00ff00" stroke-width="1.1" fill="none" shape-rendering="crispEdges"/><path d="M1303 220 l1.5 1.5 M1294.5 224 v-1.5 h17 v1.5 M1300 224 l-4 3 M1305 224 l4.5 3 M1296 230.5 h14 M1303 230.5 v6 M1293.5 236.5 h19" stroke="#00ff00" stroke-width="1.1" fill="none" shape-rendering="crispEdges"/><path d="M1316 223.5 h5 M1319 220 l-2.5 9 h5 M1320 226 v11 M1315.5 233 l5.5 -1.5 M1323 224 h11 M1324 228 h10 M1329 220 l-2 8 M1325.5 231 h7 l-3 4 M1327 233 l4 4" stroke="#00ff00" stroke-width="1.1" fill="none" shape-rendering="crispEdges"/><path d="M1337 225 h6 M1340 220 v16 l-1.5 1 M1337 231.5 l5.5 -2 M1355 220.5 l-8 2 v6 l-1 6.5 l-2.5 2.5 M1347 227.5 h9 M1352 227.5 v10" stroke="#00ff00" stroke-width="1.1" fill="none" shape-rendering="crispEdges"/><path d="M1368 220 v7.5 M1368 223 h8.5 M1363 227.5 h12 v6 h-12 z M1361 238 l1.5 -3 M1366 235 l1 2.5 M1370.5 235 l1 2.5 M1375 235 l1.5 2.5" stroke="#00ff00" stroke-width="1.1" fill="none" shape-rendering="crispEdges"/></svg>
</body></html>
